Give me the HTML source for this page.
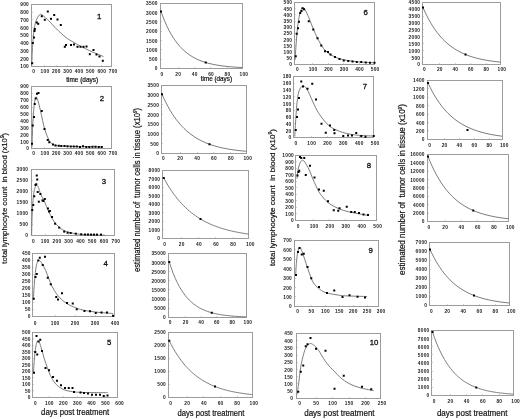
<!DOCTYPE html>
<html><head><meta charset="utf-8"><style>
html,body{margin:0;padding:0;background:#fff;}
body{width:520px;height:419px;overflow:hidden;}
svg{display:block;filter:grayscale(1);}
svg text{font-family:"Liberation Sans", sans-serif;}
.p text{font-size:4.8px;fill:#222;font-weight:bold;letter-spacing:0.25px;}
</style></head><body>
<svg width="520" height="419" viewBox="0 0 520 419">
<rect width="520" height="419" fill="#fff"/>
<g class="p"><rect x="31.5" y="4.5" width="80" height="62" fill="none" stroke="#9c9c9c" stroke-width="1.0"/><text x="29.05" y="0" text-anchor="end" transform="translate(0 6.42) scale(1 1.0) translate(0 0)">900</text><path d="M31.5,12.5 h1.5" stroke="#9c9c9c" stroke-width="0.8" opacity="0.6"/><text x="29.05" y="0" text-anchor="end" transform="translate(0 14.17) scale(1 1.0) translate(0 0)">800</text><path d="M31.5,19.5 h1.5" stroke="#9c9c9c" stroke-width="0.8" opacity="0.6"/><text x="29.05" y="0" text-anchor="end" transform="translate(0 21.92) scale(1 1.0) translate(0 0)">700</text><path d="M31.5,27.5 h1.5" stroke="#9c9c9c" stroke-width="0.8" opacity="0.6"/><text x="29.05" y="0" text-anchor="end" transform="translate(0 29.67) scale(1 1.0) translate(0 0)">600</text><path d="M31.5,35.5 h1.5" stroke="#9c9c9c" stroke-width="0.8" opacity="0.6"/><text x="29.05" y="0" text-anchor="end" transform="translate(0 37.42) scale(1 1.0) translate(0 0)">500</text><path d="M31.5,43.5 h1.5" stroke="#9c9c9c" stroke-width="0.8" opacity="0.6"/><text x="29.05" y="0" text-anchor="end" transform="translate(0 45.17) scale(1 1.0) translate(0 0)">400</text><path d="M31.5,50.5 h1.5" stroke="#9c9c9c" stroke-width="0.8" opacity="0.6"/><text x="29.05" y="0" text-anchor="end" transform="translate(0 52.92) scale(1 1.0) translate(0 0)">300</text><path d="M31.5,58.5 h1.5" stroke="#9c9c9c" stroke-width="0.8" opacity="0.6"/><text x="29.05" y="0" text-anchor="end" transform="translate(0 60.67) scale(1 1.0) translate(0 0)">200</text><text x="29.05" y="0" text-anchor="end" transform="translate(0 68.42) scale(1 1.0) translate(0 0)">100</text><text x="33.62" y="0" text-anchor="middle" transform="translate(0 73.02) scale(1 1.0)">0</text><path d="M44.5,66.5 v-1.5" stroke="#9c9c9c" stroke-width="0.8" opacity="0.6"/><text x="44.98" y="0" text-anchor="middle" transform="translate(0 73.02) scale(1 1.0)">100</text><path d="M56.5,66.5 v-1.5" stroke="#9c9c9c" stroke-width="0.8" opacity="0.6"/><text x="56.33" y="0" text-anchor="middle" transform="translate(0 73.02) scale(1 1.0)">200</text><path d="M67.5,66.5 v-1.5" stroke="#9c9c9c" stroke-width="0.8" opacity="0.6"/><text x="67.69" y="0" text-anchor="middle" transform="translate(0 73.02) scale(1 1.0)">300</text><path d="M78.5,66.5 v-1.5" stroke="#9c9c9c" stroke-width="0.8" opacity="0.6"/><text x="79.05" y="0" text-anchor="middle" transform="translate(0 73.02) scale(1 1.0)">400</text><path d="M90.5,66.5 v-1.5" stroke="#9c9c9c" stroke-width="0.8" opacity="0.6"/><text x="90.41" y="0" text-anchor="middle" transform="translate(0 73.02) scale(1 1.0)">500</text><path d="M101.5,66.5 v-1.5" stroke="#9c9c9c" stroke-width="0.8" opacity="0.6"/><text x="101.76" y="0" text-anchor="middle" transform="translate(0 73.02) scale(1 1.0)">600</text><text x="113.12" y="0" text-anchor="middle" transform="translate(0 73.02) scale(1 1.0)">700</text><path d="M31.6,66 C31.65,65 31.78,62.5 31.9,60 C32.02,57.5 32.05,55.03 32.3,51 C32.55,46.97 33.02,39.88 33.4,35.8 C33.78,31.72 34.13,29.07 34.6,26.5 C35.07,23.93 35.55,22.15 36.2,20.4 C36.85,18.65 37.78,17.03 38.5,16 C39.22,14.97 39.88,14.37 40.5,14.2 C41.12,14.03 41.65,14.65 42.2,15 C42.75,15.35 42.97,15.6 43.8,16.3 C44.63,17 46.08,18.17 47.2,19.2 C48.32,20.23 49.25,21.18 50.5,22.5 C51.75,23.82 53.3,25.63 54.7,27.1 C56.1,28.57 57.5,29.97 58.9,31.3 C60.3,32.63 61.72,33.92 63.1,35.1 C64.48,36.28 65.82,37.42 67.2,38.4 C68.58,39.38 69.65,39.97 71.4,41 C73.15,42.03 75.37,43.33 77.7,44.6 C80.03,45.87 82.83,47.32 85.4,48.6 C87.97,49.88 90.08,50.98 93.1,52.3 C96.12,53.62 101.77,55.8 103.5,56.5" fill="none" stroke="#767676" stroke-width="0.95"/><rect x="31.2" y="62.2" width="2.0" height="2.0" fill="#000"/><rect x="31.8" y="42" width="2.0" height="2.0" fill="#000"/><rect x="33" y="36.5" width="2.0" height="2.0" fill="#000"/><rect x="33.5" y="30" width="2.0" height="2.0" fill="#000"/><rect x="33.8" y="28" width="2.0" height="2.0" fill="#000"/><rect x="35.8" y="21.5" width="2.0" height="2.0" fill="#000"/><rect x="37.2" y="22.8" width="2.0" height="2.0" fill="#000"/><rect x="40.8" y="15.2" width="2.0" height="2.0" fill="#000"/><rect x="43.8" y="18.8" width="2.0" height="2.0" fill="#000"/><rect x="46.8" y="10.5" width="2.0" height="2.0" fill="#000"/><rect x="50" y="17.8" width="2.0" height="2.0" fill="#000"/><rect x="53.2" y="14" width="2.0" height="2.0" fill="#000"/><rect x="56.5" y="18.5" width="2.0" height="2.0" fill="#000"/><rect x="59.8" y="24" width="2.0" height="2.0" fill="#000"/><rect x="63.8" y="45.8" width="2.0" height="2.0" fill="#000"/><rect x="65" y="44" width="2.0" height="2.0" fill="#000"/><rect x="70" y="44" width="2.0" height="2.0" fill="#000"/><rect x="73" y="43.5" width="2.0" height="2.0" fill="#000"/><rect x="76.5" y="45.8" width="2.0" height="2.0" fill="#000"/><rect x="79.5" y="45.8" width="2.0" height="2.0" fill="#000"/><rect x="82.5" y="45.8" width="2.0" height="2.0" fill="#000"/><rect x="85.5" y="45.5" width="2.0" height="2.0" fill="#000"/><rect x="88.8" y="53.2" width="2.0" height="2.0" fill="#000"/><rect x="92.5" y="49" width="2.0" height="2.0" fill="#000"/><rect x="95.5" y="53.5" width="2.0" height="2.0" fill="#000"/><rect x="98.5" y="55.5" width="2.0" height="2.0" fill="#000"/><rect x="101.8" y="59.8" width="2.0" height="2.0" fill="#000"/><text x="99.1" y="19.01" text-anchor="middle" style="font-size:7.8px;fill:#111;font-weight:normal;letter-spacing:0;stroke:#111;stroke-width:0.3px">1</text></g>
<g class="p"><rect x="31.5" y="86.5" width="80" height="62" fill="none" stroke="#9c9c9c" stroke-width="1.0"/><text x="29.05" y="0" text-anchor="end" transform="translate(0 88.42) scale(1 1.0) translate(0 0)">900</text><path d="M31.5,93.5 h1.5" stroke="#9c9c9c" stroke-width="0.8" opacity="0.6"/><text x="29.05" y="0" text-anchor="end" transform="translate(0 95.3) scale(1 1.0) translate(0 0)">800</text><path d="M31.5,100.5 h1.5" stroke="#9c9c9c" stroke-width="0.8" opacity="0.6"/><text x="29.05" y="0" text-anchor="end" transform="translate(0 102.19) scale(1 1.0) translate(0 0)">700</text><path d="M31.5,107.5 h1.5" stroke="#9c9c9c" stroke-width="0.8" opacity="0.6"/><text x="29.05" y="0" text-anchor="end" transform="translate(0 109.08) scale(1 1.0) translate(0 0)">600</text><path d="M31.5,113.5 h1.5" stroke="#9c9c9c" stroke-width="0.8" opacity="0.6"/><text x="29.05" y="0" text-anchor="end" transform="translate(0 115.97) scale(1 1.0) translate(0 0)">500</text><path d="M31.5,120.5 h1.5" stroke="#9c9c9c" stroke-width="0.8" opacity="0.6"/><text x="29.05" y="0" text-anchor="end" transform="translate(0 122.86) scale(1 1.0) translate(0 0)">400</text><path d="M31.5,127.5 h1.5" stroke="#9c9c9c" stroke-width="0.8" opacity="0.6"/><text x="29.05" y="0" text-anchor="end" transform="translate(0 129.75) scale(1 1.0) translate(0 0)">300</text><path d="M31.5,134.5 h1.5" stroke="#9c9c9c" stroke-width="0.8" opacity="0.6"/><text x="29.05" y="0" text-anchor="end" transform="translate(0 136.64) scale(1 1.0) translate(0 0)">200</text><path d="M31.5,141.5 h1.5" stroke="#9c9c9c" stroke-width="0.8" opacity="0.6"/><text x="29.05" y="0" text-anchor="end" transform="translate(0 143.53) scale(1 1.0) translate(0 0)">100</text><text x="29.05" y="0" text-anchor="end" transform="translate(0 150.42) scale(1 1.0) translate(0 0)">0</text><text x="33.62" y="0" text-anchor="middle" transform="translate(0 155.27) scale(1 1.0)">0</text><path d="M44.5,148.5 v-1.5" stroke="#9c9c9c" stroke-width="0.8" opacity="0.6"/><text x="44.98" y="0" text-anchor="middle" transform="translate(0 155.27) scale(1 1.0)">100</text><path d="M56.5,148.5 v-1.5" stroke="#9c9c9c" stroke-width="0.8" opacity="0.6"/><text x="56.33" y="0" text-anchor="middle" transform="translate(0 155.27) scale(1 1.0)">200</text><path d="M67.5,148.5 v-1.5" stroke="#9c9c9c" stroke-width="0.8" opacity="0.6"/><text x="67.69" y="0" text-anchor="middle" transform="translate(0 155.27) scale(1 1.0)">300</text><path d="M78.5,148.5 v-1.5" stroke="#9c9c9c" stroke-width="0.8" opacity="0.6"/><text x="79.05" y="0" text-anchor="middle" transform="translate(0 155.27) scale(1 1.0)">400</text><path d="M90.5,148.5 v-1.5" stroke="#9c9c9c" stroke-width="0.8" opacity="0.6"/><text x="90.41" y="0" text-anchor="middle" transform="translate(0 155.27) scale(1 1.0)">500</text><path d="M101.5,148.5 v-1.5" stroke="#9c9c9c" stroke-width="0.8" opacity="0.6"/><text x="101.76" y="0" text-anchor="middle" transform="translate(0 155.27) scale(1 1.0)">600</text><text x="113.12" y="0" text-anchor="middle" transform="translate(0 155.27) scale(1 1.0)">700</text><path d="M32,147 C32.07,145 32.28,138.67 32.4,135 C32.52,131.33 32.57,128 32.7,125 C32.83,122 33.03,119.47 33.2,117 C33.37,114.53 33.45,112.82 33.7,110.2 C33.95,107.58 34.33,103.52 34.7,101.3 C35.07,99.08 35.52,97.42 35.9,96.9 C36.28,96.38 36.63,97.47 37,98.2 C37.37,98.93 37.73,100.1 38.1,101.3 C38.47,102.5 38.82,103.92 39.2,105.4 C39.58,106.88 40.02,108.55 40.4,110.2 C40.78,111.85 41.13,113.57 41.5,115.3 C41.87,117.03 42.23,118.93 42.6,120.6 C42.97,122.27 43.33,123.82 43.7,125.3 C44.07,126.78 44.37,128.07 44.8,129.5 C45.23,130.93 45.8,132.55 46.3,133.9 C46.8,135.25 47.32,136.5 47.8,137.6 C48.28,138.7 48.72,139.63 49.2,140.5 C49.68,141.37 50.15,142.18 50.7,142.8 C51.25,143.42 51.88,143.83 52.5,144.2 C53.12,144.57 53.22,144.73 54.4,145 C55.58,145.27 56.17,145.55 59.6,145.8 C63.03,146.05 67.85,146.33 75,146.5 C82.15,146.67 97.92,146.75 102.5,146.8" fill="none" stroke="#767676" stroke-width="0.95"/><rect x="31" y="142.75" width="2.0" height="2.0" fill="#000"/><rect x="31.75" y="124.5" width="2.0" height="2.0" fill="#000"/><rect x="33" y="116" width="2.0" height="2.0" fill="#000"/><rect x="33.75" y="103" width="2.0" height="2.0" fill="#000"/><rect x="34.75" y="97.5" width="2.0" height="2.0" fill="#000"/><rect x="36" y="92.75" width="2.0" height="2.0" fill="#000"/><rect x="37.5" y="92" width="2.0" height="2.0" fill="#000"/><rect x="40.75" y="110" width="2.0" height="2.0" fill="#000"/><rect x="43.5" y="128" width="2.0" height="2.0" fill="#000"/><rect x="46.75" y="139" width="2.0" height="2.0" fill="#000"/><rect x="48.25" y="141.25" width="2.0" height="2.0" fill="#000"/><rect x="52" y="143.5" width="2.0" height="2.0" fill="#000"/><rect x="54.5" y="144.5" width="2.0" height="2.0" fill="#000"/><rect x="57.75" y="144.75" width="2.0" height="2.0" fill="#000"/><rect x="60.25" y="145" width="2.0" height="2.0" fill="#000"/><rect x="63.5" y="145" width="2.0" height="2.0" fill="#000"/><rect x="66.5" y="145.25" width="2.0" height="2.0" fill="#000"/><rect x="69.75" y="145.5" width="2.0" height="2.0" fill="#000"/><rect x="72.75" y="145.5" width="2.0" height="2.0" fill="#000"/><rect x="75.75" y="145.5" width="2.0" height="2.0" fill="#000"/><rect x="79" y="146" width="2.0" height="2.0" fill="#000"/><rect x="82" y="145.25" width="2.0" height="2.0" fill="#000"/><rect x="85.25" y="146" width="2.0" height="2.0" fill="#000"/><rect x="88.25" y="146" width="2.0" height="2.0" fill="#000"/><rect x="91.5" y="145.75" width="2.0" height="2.0" fill="#000"/><rect x="94.5" y="145.75" width="2.0" height="2.0" fill="#000"/><rect x="97.75" y="146" width="2.0" height="2.0" fill="#000"/><rect x="100.75" y="146" width="2.0" height="2.0" fill="#000"/><text x="102" y="100.71" text-anchor="middle" style="font-size:7.8px;fill:#111;font-weight:normal;letter-spacing:0;stroke:#111;stroke-width:0.3px">2</text></g>
<g class="p"><rect x="31.5" y="169.5" width="83" height="66" fill="none" stroke="#9c9c9c" stroke-width="1.0"/><text x="28.25" y="0" text-anchor="end" transform="translate(0 171.42) scale(1 1.0) translate(0 0)">3000</text><path d="M31.5,180.5 h1.5" stroke="#9c9c9c" stroke-width="0.8" opacity="0.6"/><text x="28.25" y="0" text-anchor="end" transform="translate(0 182.42) scale(1 1.0) translate(0 0)">2500</text><path d="M31.5,191.5 h1.5" stroke="#9c9c9c" stroke-width="0.8" opacity="0.6"/><text x="28.25" y="0" text-anchor="end" transform="translate(0 193.42) scale(1 1.0) translate(0 0)">2000</text><path d="M31.5,202.5 h1.5" stroke="#9c9c9c" stroke-width="0.8" opacity="0.6"/><text x="28.25" y="0" text-anchor="end" transform="translate(0 204.42) scale(1 1.0) translate(0 0)">1500</text><path d="M31.5,213.5 h1.5" stroke="#9c9c9c" stroke-width="0.8" opacity="0.6"/><text x="28.25" y="0" text-anchor="end" transform="translate(0 215.42) scale(1 1.0) translate(0 0)">1000</text><path d="M31.5,224.5 h1.5" stroke="#9c9c9c" stroke-width="0.8" opacity="0.6"/><text x="28.25" y="0" text-anchor="end" transform="translate(0 226.42) scale(1 1.0) translate(0 0)">500</text><text x="28.25" y="0" text-anchor="end" transform="translate(0 237.42) scale(1 1.0) translate(0 0)">0</text><text x="33.37" y="0" text-anchor="middle" transform="translate(0 243.27) scale(1 1.0)">0</text><path d="M45.5,235.5 v-1.5" stroke="#9c9c9c" stroke-width="0.8" opacity="0.6"/><text x="45.16" y="0" text-anchor="middle" transform="translate(0 243.27) scale(1 1.0)">100</text><path d="M56.5,235.5 v-1.5" stroke="#9c9c9c" stroke-width="0.8" opacity="0.6"/><text x="56.94" y="0" text-anchor="middle" transform="translate(0 243.27) scale(1 1.0)">200</text><path d="M68.5,235.5 v-1.5" stroke="#9c9c9c" stroke-width="0.8" opacity="0.6"/><text x="68.73" y="0" text-anchor="middle" transform="translate(0 243.27) scale(1 1.0)">300</text><path d="M80.5,235.5 v-1.5" stroke="#9c9c9c" stroke-width="0.8" opacity="0.6"/><text x="80.51" y="0" text-anchor="middle" transform="translate(0 243.27) scale(1 1.0)">400</text><path d="M92.5,235.5 v-1.5" stroke="#9c9c9c" stroke-width="0.8" opacity="0.6"/><text x="92.3" y="0" text-anchor="middle" transform="translate(0 243.27) scale(1 1.0)">500</text><path d="M103.5,235.5 v-1.5" stroke="#9c9c9c" stroke-width="0.8" opacity="0.6"/><text x="104.08" y="0" text-anchor="middle" transform="translate(0 243.27) scale(1 1.0)">600</text><text x="115.87" y="0" text-anchor="middle" transform="translate(0 243.27) scale(1 1.0)">700</text><path d="M31.6,235 C31.7,231.5 31.92,220.33 32.2,214 C32.48,207.67 32.92,201.08 33.3,197 C33.68,192.92 34.08,191.33 34.5,189.5 C34.92,187.67 35.38,186.67 35.8,186 C36.22,185.33 36.55,185.25 37,185.5 C37.45,185.75 37.93,186.15 38.5,187.5 C39.07,188.85 39.73,191.88 40.4,193.6 C41.07,195.32 41.82,196.45 42.5,197.8 C43.18,199.15 43.83,200.27 44.5,201.7 C45.17,203.13 45.82,204.8 46.5,206.4 C47.18,208 47.9,209.75 48.6,211.3 C49.3,212.85 50.02,214.35 50.7,215.7 C51.38,217.05 52.03,218.28 52.7,219.4 C53.37,220.52 54.03,221.5 54.7,222.4 C55.37,223.3 55.9,223.95 56.7,224.8 C57.5,225.65 58.58,226.7 59.5,227.5 C60.42,228.3 61.2,229 62.2,229.6 C63.2,230.2 64.37,230.65 65.5,231.1 C66.63,231.55 67.28,231.87 69,232.3 C70.72,232.73 73.32,233.32 75.8,233.7 C78.28,234.08 80.7,234.37 83.9,234.6 C87.1,234.83 91.43,234.98 95,235.1 C98.57,235.22 103.58,235.27 105.3,235.3" fill="none" stroke="#767676" stroke-width="0.95"/><rect x="31.25" y="209" width="2.0" height="2.0" fill="#000"/><rect x="32.25" y="204" width="2.0" height="2.0" fill="#000"/><rect x="33.25" y="195.25" width="2.0" height="2.0" fill="#000"/><rect x="34.5" y="184" width="2.0" height="2.0" fill="#000"/><rect x="35.25" y="183.25" width="2.0" height="2.0" fill="#000"/><rect x="35.75" y="174.5" width="2.0" height="2.0" fill="#000"/><rect x="36.25" y="178.5" width="2.0" height="2.0" fill="#000"/><rect x="36.7" y="191" width="2.0" height="2.0" fill="#000"/><rect x="37.8" y="200.7" width="2.0" height="2.0" fill="#000"/><rect x="39.4" y="193" width="2.0" height="2.0" fill="#000"/><rect x="41.5" y="199.4" width="2.0" height="2.0" fill="#000"/><rect x="42.4" y="200" width="2.0" height="2.0" fill="#000"/><rect x="43.8" y="198" width="2.0" height="2.0" fill="#000"/><rect x="46.9" y="207.5" width="2.0" height="2.0" fill="#000"/><rect x="48" y="210.5" width="2.0" height="2.0" fill="#000"/><rect x="48.9" y="210" width="2.0" height="2.0" fill="#000"/><rect x="51" y="216" width="2.0" height="2.0" fill="#000"/><rect x="54.1" y="222.7" width="2.0" height="2.0" fill="#000"/><rect x="58.2" y="226.6" width="2.0" height="2.0" fill="#000"/><rect x="63.2" y="230.6" width="2.0" height="2.0" fill="#000"/><rect x="66.6" y="231.7" width="2.0" height="2.0" fill="#000"/><rect x="69.6" y="232" width="2.0" height="2.0" fill="#000"/><rect x="74.8" y="232.7" width="2.0" height="2.0" fill="#000"/><rect x="80.2" y="233.3" width="2.0" height="2.0" fill="#000"/><rect x="84" y="233.5" width="2.0" height="2.0" fill="#000"/><rect x="87" y="233.5" width="2.0" height="2.0" fill="#000"/><rect x="90" y="233.6" width="2.0" height="2.0" fill="#000"/><rect x="93" y="233.6" width="2.0" height="2.0" fill="#000"/><rect x="96" y="233.6" width="2.0" height="2.0" fill="#000"/><rect x="100" y="233.6" width="2.0" height="2.0" fill="#000"/><text x="103.8" y="183.61" text-anchor="middle" style="font-size:7.8px;fill:#111;font-weight:normal;letter-spacing:0;stroke:#111;stroke-width:0.3px">3</text></g>
<g class="p"><rect x="32.5" y="253.5" width="82" height="63" fill="none" stroke="#9c9c9c" stroke-width="1.0"/><text x="30.75" y="0" text-anchor="end" transform="translate(0 255.42) scale(1 1.0) translate(0 0)">450</text><path d="M32.5,260.5 h1.5" stroke="#9c9c9c" stroke-width="0.8" opacity="0.6"/><text x="30.75" y="0" text-anchor="end" transform="translate(0 262.42) scale(1 1.0) translate(0 0)">400</text><path d="M32.5,267.5 h1.5" stroke="#9c9c9c" stroke-width="0.8" opacity="0.6"/><text x="30.75" y="0" text-anchor="end" transform="translate(0 269.42) scale(1 1.0) translate(0 0)">350</text><path d="M32.5,274.5 h1.5" stroke="#9c9c9c" stroke-width="0.8" opacity="0.6"/><text x="30.75" y="0" text-anchor="end" transform="translate(0 276.42) scale(1 1.0) translate(0 0)">300</text><path d="M32.5,281.5 h1.5" stroke="#9c9c9c" stroke-width="0.8" opacity="0.6"/><text x="30.75" y="0" text-anchor="end" transform="translate(0 283.42) scale(1 1.0) translate(0 0)">250</text><path d="M32.5,288.5 h1.5" stroke="#9c9c9c" stroke-width="0.8" opacity="0.6"/><text x="30.75" y="0" text-anchor="end" transform="translate(0 290.42) scale(1 1.0) translate(0 0)">200</text><path d="M32.5,295.5 h1.5" stroke="#9c9c9c" stroke-width="0.8" opacity="0.6"/><text x="30.75" y="0" text-anchor="end" transform="translate(0 297.42) scale(1 1.0) translate(0 0)">150</text><path d="M32.5,302.5 h1.5" stroke="#9c9c9c" stroke-width="0.8" opacity="0.6"/><text x="30.75" y="0" text-anchor="end" transform="translate(0 304.42) scale(1 1.0) translate(0 0)">100</text><path d="M32.5,309.5 h1.5" stroke="#9c9c9c" stroke-width="0.8" opacity="0.6"/><text x="30.75" y="0" text-anchor="end" transform="translate(0 311.42) scale(1 1.0) translate(0 0)">50</text><text x="30.75" y="0" text-anchor="end" transform="translate(0 318.42) scale(1 1.0) translate(0 0)">0</text><text x="35.12" y="0" text-anchor="middle" transform="translate(0 324.52) scale(1 1.0)">0</text><path d="M55.5,316.5 v-1.5" stroke="#9c9c9c" stroke-width="0.8" opacity="0.6"/><text x="55.12" y="0" text-anchor="middle" transform="translate(0 324.52) scale(1 1.0)">100</text><path d="M75.5,316.5 v-1.5" stroke="#9c9c9c" stroke-width="0.8" opacity="0.6"/><text x="75.12" y="0" text-anchor="middle" transform="translate(0 324.52) scale(1 1.0)">200</text><path d="M95.5,316.5 v-1.5" stroke="#9c9c9c" stroke-width="0.8" opacity="0.6"/><text x="95.12" y="0" text-anchor="middle" transform="translate(0 324.52) scale(1 1.0)">300</text><text x="115.12" y="0" text-anchor="middle" transform="translate(0 324.52) scale(1 1.0)">400</text><path d="M33.3,300 C33.38,298.67 33.63,294.57 33.8,292 C33.97,289.43 34.03,287.88 34.3,284.6 C34.57,281.32 35.02,275.62 35.4,272.3 C35.78,268.98 36.2,266.53 36.6,264.7 C37,262.87 37.42,262.07 37.8,261.3 C38.18,260.53 38.45,260.1 38.9,260.1 C39.35,260.1 39.87,260.53 40.5,261.3 C41.13,262.07 42.07,263.67 42.7,264.7 C43.33,265.73 43.78,266.48 44.3,267.5 C44.82,268.52 45.3,269.62 45.8,270.8 C46.3,271.98 46.8,273.32 47.3,274.6 C47.8,275.88 48.3,277.2 48.8,278.5 C49.3,279.8 49.78,281.13 50.3,282.4 C50.82,283.67 51.25,284.78 51.9,286.1 C52.55,287.42 53.43,289.02 54.2,290.3 C54.97,291.58 55.73,292.73 56.5,293.8 C57.27,294.87 58.03,295.82 58.8,296.7 C59.57,297.58 60.23,298.28 61.1,299.1 C61.97,299.92 62.98,300.83 64,301.6 C65.02,302.37 66.2,303.07 67.2,303.7 C68.2,304.33 68.98,304.88 70,305.4 C71.02,305.92 72.05,306.3 73.3,306.8 C74.55,307.3 76.05,307.9 77.5,308.4 C78.95,308.9 79.92,309.32 82,309.8 C84.08,310.28 87,310.85 90,311.3 C93,311.75 96.17,312.13 100,312.5 C103.83,312.87 110.83,313.33 113,313.5" fill="none" stroke="#767676" stroke-width="0.95"/><rect x="32.75" y="297.75" width="2.0" height="2.0" fill="#000"/><rect x="34.5" y="276" width="2.0" height="2.0" fill="#000"/><rect x="35.75" y="273" width="2.0" height="2.0" fill="#000"/><rect x="37.25" y="259.5" width="2.0" height="2.0" fill="#000"/><rect x="38.75" y="256.75" width="2.0" height="2.0" fill="#000"/><rect x="41.75" y="264" width="2.0" height="2.0" fill="#000"/><rect x="44" y="255.75" width="2.0" height="2.0" fill="#000"/><rect x="46.75" y="276.75" width="2.0" height="2.0" fill="#000"/><rect x="49.75" y="283.25" width="2.0" height="2.0" fill="#000"/><rect x="55.25" y="296" width="2.0" height="2.0" fill="#000"/><rect x="57" y="298.5" width="2.0" height="2.0" fill="#000"/><rect x="61" y="292.25" width="2.0" height="2.0" fill="#000"/><rect x="66" y="302" width="2.0" height="2.0" fill="#000"/><rect x="71.75" y="302.5" width="2.0" height="2.0" fill="#000"/><rect x="75.75" y="308.25" width="2.0" height="2.0" fill="#000"/><rect x="83.5" y="310" width="2.0" height="2.0" fill="#000"/><rect x="89" y="310.25" width="2.0" height="2.0" fill="#000"/><rect x="94.75" y="312" width="2.0" height="2.0" fill="#000"/><rect x="100.5" y="311.5" width="2.0" height="2.0" fill="#000"/><rect x="106" y="311.5" width="2.0" height="2.0" fill="#000"/><rect x="112" y="314.75" width="2.0" height="2.0" fill="#000"/><text x="105.7" y="266.01" text-anchor="middle" style="font-size:7.8px;fill:#111;font-weight:normal;letter-spacing:0;stroke:#111;stroke-width:0.3px">4</text></g>
<g class="p"><rect x="32.5" y="332.5" width="85" height="65" fill="none" stroke="#9c9c9c" stroke-width="1.0"/><text x="30.75" y="0" text-anchor="end" transform="translate(0 334.42) scale(1 1.0) translate(0 0)">500</text><path d="M32.5,338.5 h1.5" stroke="#9c9c9c" stroke-width="0.8" opacity="0.6"/><text x="30.75" y="0" text-anchor="end" transform="translate(0 340.92) scale(1 1.0) translate(0 0)">450</text><path d="M32.5,345.5 h1.5" stroke="#9c9c9c" stroke-width="0.8" opacity="0.6"/><text x="30.75" y="0" text-anchor="end" transform="translate(0 347.42) scale(1 1.0) translate(0 0)">400</text><path d="M32.5,351.5 h1.5" stroke="#9c9c9c" stroke-width="0.8" opacity="0.6"/><text x="30.75" y="0" text-anchor="end" transform="translate(0 353.92) scale(1 1.0) translate(0 0)">350</text><path d="M32.5,358.5 h1.5" stroke="#9c9c9c" stroke-width="0.8" opacity="0.6"/><text x="30.75" y="0" text-anchor="end" transform="translate(0 360.42) scale(1 1.0) translate(0 0)">300</text><path d="M32.5,364.5 h1.5" stroke="#9c9c9c" stroke-width="0.8" opacity="0.6"/><text x="30.75" y="0" text-anchor="end" transform="translate(0 366.92) scale(1 1.0) translate(0 0)">250</text><path d="M32.5,371.5 h1.5" stroke="#9c9c9c" stroke-width="0.8" opacity="0.6"/><text x="30.75" y="0" text-anchor="end" transform="translate(0 373.42) scale(1 1.0) translate(0 0)">200</text><path d="M32.5,377.5 h1.5" stroke="#9c9c9c" stroke-width="0.8" opacity="0.6"/><text x="30.75" y="0" text-anchor="end" transform="translate(0 379.92) scale(1 1.0) translate(0 0)">150</text><path d="M32.5,384.5 h1.5" stroke="#9c9c9c" stroke-width="0.8" opacity="0.6"/><text x="30.75" y="0" text-anchor="end" transform="translate(0 386.42) scale(1 1.0) translate(0 0)">100</text><path d="M32.5,390.5 h1.5" stroke="#9c9c9c" stroke-width="0.8" opacity="0.6"/><text x="30.75" y="0" text-anchor="end" transform="translate(0 392.92) scale(1 1.0) translate(0 0)">50</text><text x="30.75" y="0" text-anchor="end" transform="translate(0 399.42) scale(1 1.0) translate(0 0)">0</text><text x="35.37" y="0" text-anchor="middle" transform="translate(0 405.02) scale(1 1.0)">0</text><path d="M49.5,397.5 v-1.5" stroke="#9c9c9c" stroke-width="0.8" opacity="0.6"/><text x="49.41" y="0" text-anchor="middle" transform="translate(0 405.02) scale(1 1.0)">100</text><path d="M63.5,397.5 v-1.5" stroke="#9c9c9c" stroke-width="0.8" opacity="0.6"/><text x="63.45" y="0" text-anchor="middle" transform="translate(0 405.02) scale(1 1.0)">200</text><path d="M77.5,397.5 v-1.5" stroke="#9c9c9c" stroke-width="0.8" opacity="0.6"/><text x="77.5" y="0" text-anchor="middle" transform="translate(0 405.02) scale(1 1.0)">300</text><path d="M91.5,397.5 v-1.5" stroke="#9c9c9c" stroke-width="0.8" opacity="0.6"/><text x="91.54" y="0" text-anchor="middle" transform="translate(0 405.02) scale(1 1.0)">400</text><path d="M105.5,397.5 v-1.5" stroke="#9c9c9c" stroke-width="0.8" opacity="0.6"/><text x="105.58" y="0" text-anchor="middle" transform="translate(0 405.02) scale(1 1.0)">500</text><text x="119.62" y="0" text-anchor="middle" transform="translate(0 405.02) scale(1 1.0)">600</text><path d="M33.5,372.2 C33.63,370.17 33.98,363.82 34.3,360 C34.62,356.18 35.02,352.1 35.4,349.3 C35.78,346.5 36.2,344.6 36.6,343.2 C37,341.8 37.4,341.13 37.8,340.9 C38.2,340.67 38.63,341.28 39,341.8 C39.37,342.32 39.63,343 40,344 C40.37,345 40.75,346.3 41.2,347.8 C41.65,349.3 42.2,351.22 42.7,353 C43.2,354.78 43.68,356.78 44.2,358.5 C44.72,360.22 45.28,361.78 45.8,363.3 C46.32,364.82 46.8,366.22 47.3,367.6 C47.8,368.98 48.3,370.32 48.8,371.6 C49.3,372.88 49.68,373.98 50.3,375.3 C50.92,376.62 51.73,378.22 52.5,379.5 C53.27,380.78 53.9,381.83 54.9,383 C55.9,384.17 57.22,385.5 58.5,386.5 C59.78,387.5 61.35,388.35 62.6,389 C63.85,389.65 64.73,390.02 66,390.4 C67.27,390.78 68.7,391.03 70.2,391.3 C71.7,391.57 73.22,391.82 75,392 C76.78,392.18 77.57,392.3 80.9,392.4 C84.23,392.5 90.53,392.57 95,392.6 C99.47,392.63 105.58,392.6 107.7,392.6" fill="none" stroke="#767676" stroke-width="0.95"/><rect x="33" y="371.75" width="2.0" height="2.0" fill="#000"/><rect x="34.25" y="351" width="2.0" height="2.0" fill="#000"/><rect x="35.5" y="335" width="2.0" height="2.0" fill="#000"/><rect x="36.25" y="353.5" width="2.0" height="2.0" fill="#000"/><rect x="37.5" y="340.5" width="2.0" height="2.0" fill="#000"/><rect x="39.25" y="338.75" width="2.0" height="2.0" fill="#000"/><rect x="41" y="350" width="2.0" height="2.0" fill="#000"/><rect x="44.5" y="367" width="2.0" height="2.0" fill="#000"/><rect x="48" y="369.25" width="2.0" height="2.0" fill="#000"/><rect x="52" y="376" width="2.0" height="2.0" fill="#000"/><rect x="56" y="379.75" width="2.0" height="2.0" fill="#000"/><rect x="60" y="384.25" width="2.0" height="2.0" fill="#000"/><rect x="64" y="387" width="2.0" height="2.0" fill="#000"/><rect x="67.75" y="387" width="2.0" height="2.0" fill="#000"/><rect x="71.5" y="387" width="2.0" height="2.0" fill="#000"/><rect x="73" y="391" width="2.0" height="2.0" fill="#000"/><rect x="79.5" y="391.5" width="2.0" height="2.0" fill="#000"/><rect x="83" y="392" width="2.0" height="2.0" fill="#000"/><rect x="87" y="392.5" width="2.0" height="2.0" fill="#000"/><rect x="91" y="393.75" width="2.0" height="2.0" fill="#000"/><rect x="95" y="393.75" width="2.0" height="2.0" fill="#000"/><rect x="99" y="393.75" width="2.0" height="2.0" fill="#000"/><rect x="102.75" y="395" width="2.0" height="2.0" fill="#000"/><rect x="106.5" y="394.5" width="2.0" height="2.0" fill="#000"/><text x="109.2" y="344.61" text-anchor="middle" style="font-size:7.8px;fill:#111;font-weight:normal;letter-spacing:0;stroke:#111;stroke-width:0.3px">5</text></g>
<g class="p"><rect x="160.5" y="3.5" width="82" height="65" fill="none" stroke="#9c9c9c" stroke-width="1.0"/><text x="157.75" y="0" text-anchor="end" transform="translate(0 5.42) scale(1 1.0) translate(0 0)">3500</text><path d="M160.5,12.5 h1.5" stroke="#9c9c9c" stroke-width="0.8" opacity="0.6"/><text x="157.75" y="0" text-anchor="end" transform="translate(0 14.7) scale(1 1.0) translate(0 0)">3000</text><path d="M160.5,21.5 h1.5" stroke="#9c9c9c" stroke-width="0.8" opacity="0.6"/><text x="157.75" y="0" text-anchor="end" transform="translate(0 23.99) scale(1 1.0) translate(0 0)">2500</text><path d="M160.5,31.5 h1.5" stroke="#9c9c9c" stroke-width="0.8" opacity="0.6"/><text x="157.75" y="0" text-anchor="end" transform="translate(0 33.27) scale(1 1.0) translate(0 0)">2000</text><path d="M160.5,40.5 h1.5" stroke="#9c9c9c" stroke-width="0.8" opacity="0.6"/><text x="157.75" y="0" text-anchor="end" transform="translate(0 42.56) scale(1 1.0) translate(0 0)">1500</text><path d="M160.5,49.5 h1.5" stroke="#9c9c9c" stroke-width="0.8" opacity="0.6"/><text x="157.75" y="0" text-anchor="end" transform="translate(0 51.84) scale(1 1.0) translate(0 0)">1000</text><path d="M160.5,59.5 h1.5" stroke="#9c9c9c" stroke-width="0.8" opacity="0.6"/><text x="157.75" y="0" text-anchor="end" transform="translate(0 61.13) scale(1 1.0) translate(0 0)">500</text><text x="157.75" y="0" text-anchor="end" transform="translate(0 70.42) scale(1 1.0) translate(0 0)">0</text><text x="161.87" y="0" text-anchor="middle" transform="translate(0 75.77) scale(1 1.0)">0</text><path d="M178.5,68.5 v-1.5" stroke="#9c9c9c" stroke-width="0.8" opacity="0.6"/><text x="178.27" y="0" text-anchor="middle" transform="translate(0 75.77) scale(1 1.0)">20</text><path d="M194.5,68.5 v-1.5" stroke="#9c9c9c" stroke-width="0.8" opacity="0.6"/><text x="194.67" y="0" text-anchor="middle" transform="translate(0 75.77) scale(1 1.0)">40</text><path d="M210.5,68.5 v-1.5" stroke="#9c9c9c" stroke-width="0.8" opacity="0.6"/><text x="211.07" y="0" text-anchor="middle" transform="translate(0 75.77) scale(1 1.0)">60</text><path d="M227.5,68.5 v-1.5" stroke="#9c9c9c" stroke-width="0.8" opacity="0.6"/><text x="227.47" y="0" text-anchor="middle" transform="translate(0 75.77) scale(1 1.0)">80</text><text x="243.87" y="0" text-anchor="middle" transform="translate(0 75.77) scale(1 1.0)">100</text><path d="M161,11.5 L163,16.96 L165,21.89 L167,26.35 L169,30.39 L171,34.03 L173,37.33 L175,40.32 L177,43.01 L179,45.45 L181,47.66 L183,49.65 L185,51.46 L187,53.09 L189,54.56 L191,55.9 L193,57.1 L195,58.2 L197,59.18 L199,60.07 L201,60.88 L203,61.61 L205,62.27 L207,62.87 L209,63.41 L211,63.89 L213,64.33 L215,64.73 L217,65.09 L219,65.42 L221,65.71 L223,65.98 L225,66.22 L227,66.44 L229,66.64 L231,66.82 L233,66.98 L235,67.12 L237,67.25 L239,67.37 L241,67.48 L242.5,67.56" fill="none" stroke="#767676" stroke-width="0.95"/><rect x="160" y="10.5" width="2.0" height="2.0" fill="#000"/><rect x="204.75" y="61.5" width="2.0" height="2.0" fill="#000"/></g>
<g class="p"><rect x="161.5" y="85.5" width="85" height="68" fill="none" stroke="#9c9c9c" stroke-width="1.0"/><text x="159.05" y="0" text-anchor="end" transform="translate(0 87.42) scale(1 1.0) translate(0 0)">3500</text><path d="M161.5,95.5 h1.5" stroke="#9c9c9c" stroke-width="0.8" opacity="0.6"/><text x="159.05" y="0" text-anchor="end" transform="translate(0 97.13) scale(1 1.0) translate(0 0)">3000</text><path d="M161.5,104.5 h1.5" stroke="#9c9c9c" stroke-width="0.8" opacity="0.6"/><text x="159.05" y="0" text-anchor="end" transform="translate(0 106.84) scale(1 1.0) translate(0 0)">2500</text><path d="M161.5,114.5 h1.5" stroke="#9c9c9c" stroke-width="0.8" opacity="0.6"/><text x="159.05" y="0" text-anchor="end" transform="translate(0 116.56) scale(1 1.0) translate(0 0)">2000</text><path d="M161.5,124.5 h1.5" stroke="#9c9c9c" stroke-width="0.8" opacity="0.6"/><text x="159.05" y="0" text-anchor="end" transform="translate(0 126.27) scale(1 1.0) translate(0 0)">1500</text><path d="M161.5,133.5 h1.5" stroke="#9c9c9c" stroke-width="0.8" opacity="0.6"/><text x="159.05" y="0" text-anchor="end" transform="translate(0 135.99) scale(1 1.0) translate(0 0)">1000</text><path d="M161.5,143.5 h1.5" stroke="#9c9c9c" stroke-width="0.8" opacity="0.6"/><text x="159.05" y="0" text-anchor="end" transform="translate(0 145.7) scale(1 1.0) translate(0 0)">500</text><text x="159.05" y="0" text-anchor="end" transform="translate(0 155.42) scale(1 1.0) translate(0 0)">0</text><text x="163.37" y="0" text-anchor="middle" transform="translate(0 160.32) scale(1 1.0)">0</text><path d="M180.5,153.5 v-1.5" stroke="#9c9c9c" stroke-width="0.8" opacity="0.6"/><text x="180.26" y="0" text-anchor="middle" transform="translate(0 160.32) scale(1 1.0)">20</text><path d="M197.5,153.5 v-1.5" stroke="#9c9c9c" stroke-width="0.8" opacity="0.6"/><text x="197.15" y="0" text-anchor="middle" transform="translate(0 160.32) scale(1 1.0)">40</text><path d="M213.5,153.5 v-1.5" stroke="#9c9c9c" stroke-width="0.8" opacity="0.6"/><text x="214.04" y="0" text-anchor="middle" transform="translate(0 160.32) scale(1 1.0)">60</text><path d="M230.5,153.5 v-1.5" stroke="#9c9c9c" stroke-width="0.8" opacity="0.6"/><text x="230.93" y="0" text-anchor="middle" transform="translate(0 160.32) scale(1 1.0)">80</text><text x="247.82" y="0" text-anchor="middle" transform="translate(0 160.32) scale(1 1.0)">100</text><path d="M162,94.25 L164,98.71 L166,102.83 L168,106.64 L170,110.16 L172,113.42 L174,116.44 L176,119.23 L178,121.8 L180,124.19 L182,126.39 L184,128.43 L186,130.32 L188,132.06 L190,133.67 L192,135.16 L194,136.54 L196,137.82 L198,139 L200,140.09 L202,141.1 L204,142.03 L206,142.89 L208,143.69 L210,144.43 L212,145.11 L214,145.74 L216,146.33 L218,146.87 L220,147.36 L222,147.83 L224,148.25 L226,148.65 L228,149.01 L230,149.35 L232,149.66 L234,149.95 L236,150.22 L238,150.46 L240,150.69 L242,150.9 L244,151.1 L246,151.28 L246.5,151.32" fill="none" stroke="#767676" stroke-width="0.95"/><rect x="161" y="93.25" width="2.0" height="2.0" fill="#000"/><rect x="208.5" y="143.25" width="2.0" height="2.0" fill="#000"/></g>
<g class="p"><rect x="162.5" y="170.5" width="86" height="68" fill="none" stroke="#9c9c9c" stroke-width="1.0"/><text x="160.25" y="0" text-anchor="end" transform="translate(0 172.42) scale(1 1.0) translate(0 0)">8000</text><path d="M162.5,178.5 h1.5" stroke="#9c9c9c" stroke-width="0.8" opacity="0.6"/><text x="160.25" y="0" text-anchor="end" transform="translate(0 180.92) scale(1 1.0) translate(0 0)">7000</text><path d="M162.5,187.5 h1.5" stroke="#9c9c9c" stroke-width="0.8" opacity="0.6"/><text x="160.25" y="0" text-anchor="end" transform="translate(0 189.42) scale(1 1.0) translate(0 0)">6000</text><path d="M162.5,195.5 h1.5" stroke="#9c9c9c" stroke-width="0.8" opacity="0.6"/><text x="160.25" y="0" text-anchor="end" transform="translate(0 197.92) scale(1 1.0) translate(0 0)">5000</text><path d="M162.5,204.5 h1.5" stroke="#9c9c9c" stroke-width="0.8" opacity="0.6"/><text x="160.25" y="0" text-anchor="end" transform="translate(0 206.42) scale(1 1.0) translate(0 0)">4000</text><path d="M162.5,212.5 h1.5" stroke="#9c9c9c" stroke-width="0.8" opacity="0.6"/><text x="160.25" y="0" text-anchor="end" transform="translate(0 214.92) scale(1 1.0) translate(0 0)">3000</text><path d="M162.5,221.5 h1.5" stroke="#9c9c9c" stroke-width="0.8" opacity="0.6"/><text x="160.25" y="0" text-anchor="end" transform="translate(0 223.42) scale(1 1.0) translate(0 0)">2000</text><path d="M162.5,229.5 h1.5" stroke="#9c9c9c" stroke-width="0.8" opacity="0.6"/><text x="160.25" y="0" text-anchor="end" transform="translate(0 231.92) scale(1 1.0) translate(0 0)">1000</text><text x="160.25" y="0" text-anchor="end" transform="translate(0 240.42) scale(1 1.0) translate(0 0)">0</text><text x="164.62" y="0" text-anchor="middle" transform="translate(0 245.52) scale(1 1.0)">0</text><path d="M181.5,238.5 v-1.5" stroke="#9c9c9c" stroke-width="0.8" opacity="0.6"/><text x="181.78" y="0" text-anchor="middle" transform="translate(0 245.52) scale(1 1.0)">20</text><path d="M198.5,238.5 v-1.5" stroke="#9c9c9c" stroke-width="0.8" opacity="0.6"/><text x="198.94" y="0" text-anchor="middle" transform="translate(0 245.52) scale(1 1.0)">40</text><path d="M215.5,238.5 v-1.5" stroke="#9c9c9c" stroke-width="0.8" opacity="0.6"/><text x="216.1" y="0" text-anchor="middle" transform="translate(0 245.52) scale(1 1.0)">60</text><path d="M233.5,238.5 v-1.5" stroke="#9c9c9c" stroke-width="0.8" opacity="0.6"/><text x="233.26" y="0" text-anchor="middle" transform="translate(0 245.52) scale(1 1.0)">80</text><text x="250.42" y="0" text-anchor="middle" transform="translate(0 245.52) scale(1 1.0)">100</text><path d="M163.75,178 L165.75,181.62 L167.75,185.01 L169.75,188.21 L171.75,191.22 L173.75,194.04 L175.75,196.7 L177.75,199.2 L179.75,201.55 L181.75,203.75 L183.75,205.83 L185.75,207.78 L187.75,209.62 L189.75,211.34 L191.75,212.97 L193.75,214.49 L195.75,215.93 L197.75,217.28 L199.75,218.54 L201.75,219.74 L203.75,220.86 L205.75,221.91 L207.75,222.9 L209.75,223.84 L211.75,224.71 L213.75,225.54 L215.75,226.31 L217.75,227.04 L219.75,227.72 L221.75,228.37 L223.75,228.97 L225.75,229.54 L227.75,230.08 L229.75,230.58 L231.75,231.05 L233.75,231.5 L235.75,231.92 L237.75,232.31 L239.75,232.68 L241.75,233.03 L243.75,233.36 L245.75,233.66 L247.75,233.95 L248.5,234.06" fill="none" stroke="#767676" stroke-width="0.95"/><rect x="162.75" y="177" width="2.0" height="2.0" fill="#000"/><rect x="199.5" y="218" width="2.0" height="2.0" fill="#000"/></g>
<g class="p"><rect x="168.5" y="253.5" width="78" height="64" fill="none" stroke="#9c9c9c" stroke-width="1.0"/><text x="166" y="0" text-anchor="end" transform="translate(0 255.42) scale(1 1.0) translate(0 0)">35000</text><path d="M168.5,262.5 h1.5" stroke="#9c9c9c" stroke-width="0.8" opacity="0.6"/><text x="166" y="0" text-anchor="end" transform="translate(0 264.56) scale(1 1.0) translate(0 0)">30000</text><path d="M168.5,271.5 h1.5" stroke="#9c9c9c" stroke-width="0.8" opacity="0.6"/><text x="166" y="0" text-anchor="end" transform="translate(0 273.7) scale(1 1.0) translate(0 0)">25000</text><path d="M168.5,280.5 h1.5" stroke="#9c9c9c" stroke-width="0.8" opacity="0.6"/><text x="166" y="0" text-anchor="end" transform="translate(0 282.84) scale(1 1.0) translate(0 0)">20000</text><path d="M168.5,289.5 h1.5" stroke="#9c9c9c" stroke-width="0.8" opacity="0.6"/><text x="166" y="0" text-anchor="end" transform="translate(0 291.99) scale(1 1.0) translate(0 0)">15000</text><path d="M168.5,299.5 h1.5" stroke="#9c9c9c" stroke-width="0.8" opacity="0.6"/><text x="166" y="0" text-anchor="end" transform="translate(0 301.13) scale(1 1.0) translate(0 0)">10000</text><path d="M168.5,308.5 h1.5" stroke="#9c9c9c" stroke-width="0.8" opacity="0.6"/><text x="166" y="0" text-anchor="end" transform="translate(0 310.27) scale(1 1.0) translate(0 0)">5000</text><text x="166" y="0" text-anchor="end" transform="translate(0 319.42) scale(1 1.0) translate(0 0)">0</text><text x="170.12" y="0" text-anchor="middle" transform="translate(0 324.42) scale(1 1.0)">0</text><path d="M185.5,317.5 v-1.5" stroke="#9c9c9c" stroke-width="0.8" opacity="0.6"/><text x="185.68" y="0" text-anchor="middle" transform="translate(0 324.42) scale(1 1.0)">20</text><path d="M201.5,317.5 v-1.5" stroke="#9c9c9c" stroke-width="0.8" opacity="0.6"/><text x="201.24" y="0" text-anchor="middle" transform="translate(0 324.42) scale(1 1.0)">40</text><path d="M216.5,317.5 v-1.5" stroke="#9c9c9c" stroke-width="0.8" opacity="0.6"/><text x="216.8" y="0" text-anchor="middle" transform="translate(0 324.42) scale(1 1.0)">60</text><path d="M232.5,317.5 v-1.5" stroke="#9c9c9c" stroke-width="0.8" opacity="0.6"/><text x="232.36" y="0" text-anchor="middle" transform="translate(0 324.42) scale(1 1.0)">80</text><text x="247.92" y="0" text-anchor="middle" transform="translate(0 324.42) scale(1 1.0)">100</text><path d="M169.25,262 L171.25,268.06 L173.25,273.46 L175.25,278.27 L177.25,282.56 L179.25,286.38 L181.25,289.78 L183.25,292.8 L185.25,295.5 L187.25,297.91 L189.25,300.05 L191.25,301.95 L193.25,303.65 L195.25,305.16 L197.25,306.51 L199.25,307.71 L201.25,308.78 L203.25,309.73 L205.25,310.58 L207.25,311.34 L209.25,312.01 L211.25,312.61 L213.25,313.14 L215.25,313.62 L217.25,314.04 L219.25,314.42 L221.25,314.76 L223.25,315.06 L225.25,315.32 L227.25,315.56 L229.25,315.77 L231.25,315.96 L233.25,316.13 L235.25,316.28 L237.25,316.41 L239.25,316.53 L241.25,316.64 L243.25,316.73 L245.25,316.82 L246.5,316.86" fill="none" stroke="#767676" stroke-width="0.95"/><rect x="168.25" y="261" width="2.0" height="2.0" fill="#000"/><rect x="210.75" y="311.75" width="2.0" height="2.0" fill="#000"/></g>
<g class="p"><rect x="168.5" y="332.5" width="84" height="65" fill="none" stroke="#9c9c9c" stroke-width="1.0"/><text x="166" y="0" text-anchor="end" transform="translate(0 334.42) scale(1 1.0) translate(0 0)">2500</text><path d="M168.5,345.5 h1.5" stroke="#9c9c9c" stroke-width="0.8" opacity="0.6"/><text x="166" y="0" text-anchor="end" transform="translate(0 347.42) scale(1 1.0) translate(0 0)">2000</text><path d="M168.5,358.5 h1.5" stroke="#9c9c9c" stroke-width="0.8" opacity="0.6"/><text x="166" y="0" text-anchor="end" transform="translate(0 360.42) scale(1 1.0) translate(0 0)">1500</text><path d="M168.5,371.5 h1.5" stroke="#9c9c9c" stroke-width="0.8" opacity="0.6"/><text x="166" y="0" text-anchor="end" transform="translate(0 373.42) scale(1 1.0) translate(0 0)">1000</text><path d="M168.5,384.5 h1.5" stroke="#9c9c9c" stroke-width="0.8" opacity="0.6"/><text x="166" y="0" text-anchor="end" transform="translate(0 386.42) scale(1 1.0) translate(0 0)">500</text><text x="166" y="0" text-anchor="end" transform="translate(0 399.42) scale(1 1.0) translate(0 0)">0</text><text x="170.62" y="0" text-anchor="middle" transform="translate(0 405.22) scale(1 1.0)">0</text><path d="M187.5,397.5 v-1.5" stroke="#9c9c9c" stroke-width="0.8" opacity="0.6"/><text x="187.28" y="0" text-anchor="middle" transform="translate(0 405.22) scale(1 1.0)">20</text><path d="M203.5,397.5 v-1.5" stroke="#9c9c9c" stroke-width="0.8" opacity="0.6"/><text x="203.94" y="0" text-anchor="middle" transform="translate(0 405.22) scale(1 1.0)">40</text><path d="M220.5,397.5 v-1.5" stroke="#9c9c9c" stroke-width="0.8" opacity="0.6"/><text x="220.6" y="0" text-anchor="middle" transform="translate(0 405.22) scale(1 1.0)">60</text><path d="M237.5,397.5 v-1.5" stroke="#9c9c9c" stroke-width="0.8" opacity="0.6"/><text x="237.26" y="0" text-anchor="middle" transform="translate(0 405.22) scale(1 1.0)">80</text><text x="253.92" y="0" text-anchor="middle" transform="translate(0 405.22) scale(1 1.0)">100</text><path d="M169.25,340.75 L171.25,344.68 L173.25,348.33 L175.25,351.74 L177.25,354.9 L179.25,357.85 L181.25,360.6 L183.25,363.15 L185.25,365.53 L187.25,367.74 L189.25,369.8 L191.25,371.72 L193.25,373.5 L195.25,375.16 L197.25,376.71 L199.25,378.15 L201.25,379.49 L203.25,380.74 L205.25,381.9 L207.25,382.98 L209.25,383.98 L211.25,384.92 L213.25,385.79 L215.25,386.6 L217.25,387.35 L219.25,388.06 L221.25,388.71 L223.25,389.32 L225.25,389.88 L227.25,390.41 L229.25,390.9 L231.25,391.36 L233.25,391.78 L235.25,392.18 L237.25,392.55 L239.25,392.89 L241.25,393.21 L243.25,393.51 L245.25,393.78 L247.25,394.04 L249.25,394.28 L251.25,394.5 L252.5,394.63" fill="none" stroke="#767676" stroke-width="0.95"/><rect x="168.25" y="339.75" width="2.0" height="2.0" fill="#000"/><rect x="214" y="385.5" width="2.0" height="2.0" fill="#000"/></g>
<g class="p"><rect x="294.5" y="2.5" width="80" height="62" fill="none" stroke="#9c9c9c" stroke-width="1.0"/><text x="292.25" y="0" text-anchor="end" transform="translate(0 4.42) scale(1 1.0) translate(0 0)">500</text><path d="M294.5,8.5 h1.5" stroke="#9c9c9c" stroke-width="0.8" opacity="0.6"/><text x="292.25" y="0" text-anchor="end" transform="translate(0 10.62) scale(1 1.0) translate(0 0)">450</text><path d="M294.5,14.5 h1.5" stroke="#9c9c9c" stroke-width="0.8" opacity="0.6"/><text x="292.25" y="0" text-anchor="end" transform="translate(0 16.82) scale(1 1.0) translate(0 0)">400</text><path d="M294.5,21.5 h1.5" stroke="#9c9c9c" stroke-width="0.8" opacity="0.6"/><text x="292.25" y="0" text-anchor="end" transform="translate(0 23.02) scale(1 1.0) translate(0 0)">350</text><path d="M294.5,27.5 h1.5" stroke="#9c9c9c" stroke-width="0.8" opacity="0.6"/><text x="292.25" y="0" text-anchor="end" transform="translate(0 29.22) scale(1 1.0) translate(0 0)">300</text><path d="M294.5,33.5 h1.5" stroke="#9c9c9c" stroke-width="0.8" opacity="0.6"/><text x="292.25" y="0" text-anchor="end" transform="translate(0 35.42) scale(1 1.0) translate(0 0)">250</text><path d="M294.5,39.5 h1.5" stroke="#9c9c9c" stroke-width="0.8" opacity="0.6"/><text x="292.25" y="0" text-anchor="end" transform="translate(0 41.62) scale(1 1.0) translate(0 0)">200</text><path d="M294.5,45.5 h1.5" stroke="#9c9c9c" stroke-width="0.8" opacity="0.6"/><text x="292.25" y="0" text-anchor="end" transform="translate(0 47.82) scale(1 1.0) translate(0 0)">150</text><path d="M294.5,52.5 h1.5" stroke="#9c9c9c" stroke-width="0.8" opacity="0.6"/><text x="292.25" y="0" text-anchor="end" transform="translate(0 54.02) scale(1 1.0) translate(0 0)">100</text><path d="M294.5,58.5 h1.5" stroke="#9c9c9c" stroke-width="0.8" opacity="0.6"/><text x="292.25" y="0" text-anchor="end" transform="translate(0 60.22) scale(1 1.0) translate(0 0)">50</text><text x="292.25" y="0" text-anchor="end" transform="translate(0 66.42) scale(1 1.0) translate(0 0)">0</text><text x="297.52" y="0" text-anchor="middle" transform="translate(0 71.02) scale(1 1.0)">0</text><path d="M312.5,64.5 v-1.5" stroke="#9c9c9c" stroke-width="0.8" opacity="0.6"/><text x="313.04" y="0" text-anchor="middle" transform="translate(0 71.02) scale(1 1.0)">100</text><path d="M328.5,64.5 v-1.5" stroke="#9c9c9c" stroke-width="0.8" opacity="0.6"/><text x="328.56" y="0" text-anchor="middle" transform="translate(0 71.02) scale(1 1.0)">200</text><path d="M343.5,64.5 v-1.5" stroke="#9c9c9c" stroke-width="0.8" opacity="0.6"/><text x="344.08" y="0" text-anchor="middle" transform="translate(0 71.02) scale(1 1.0)">300</text><path d="M359.5,64.5 v-1.5" stroke="#9c9c9c" stroke-width="0.8" opacity="0.6"/><text x="359.6" y="0" text-anchor="middle" transform="translate(0 71.02) scale(1 1.0)">400</text><text x="375.12" y="0" text-anchor="middle" transform="translate(0 71.02) scale(1 1.0)">500</text><path d="M295,60 C295.21,57.08 295.83,47.92 296.25,42.5 C296.67,37.08 296.96,32.08 297.5,27.5 C298.04,22.92 298.88,18 299.5,15 C300.12,12 300.67,10.67 301.25,9.5 C301.83,8.33 302.38,8 303,8 C303.62,8 304.04,7.92 305,9.5 C305.96,11.08 307.38,14.29 308.75,17.5 C310.12,20.71 311.79,25.29 313.25,28.75 C314.71,32.21 315.96,35.21 317.5,38.25 C319.04,41.29 320.83,44.62 322.5,47 C324.17,49.38 325.42,50.83 327.5,52.5 C329.58,54.17 332.08,55.75 335,57 C337.92,58.25 340.83,59.17 345,60 C349.17,60.83 355.08,61.54 360,62 C364.92,62.46 372.08,62.62 374.5,62.75" fill="none" stroke="#767676" stroke-width="0.95"/><rect x="294.75" y="55.25" width="2.0" height="2.0" fill="#000"/><rect x="295.75" y="32.75" width="2.0" height="2.0" fill="#000"/><rect x="297" y="27.25" width="2.0" height="2.0" fill="#000"/><rect x="298" y="20.75" width="2.0" height="2.0" fill="#000"/><rect x="299.25" y="12" width="2.0" height="2.0" fill="#000"/><rect x="300.5" y="10" width="2.0" height="2.0" fill="#000"/><rect x="301.5" y="7.25" width="2.0" height="2.0" fill="#000"/><rect x="303" y="8.25" width="2.0" height="2.0" fill="#000"/><rect x="307.75" y="20.25" width="2.0" height="2.0" fill="#000"/><rect x="312.25" y="28.5" width="2.0" height="2.0" fill="#000"/><rect x="316.5" y="37.25" width="2.0" height="2.0" fill="#000"/><rect x="320.25" y="44.5" width="2.0" height="2.0" fill="#000"/><rect x="324" y="50.25" width="2.0" height="2.0" fill="#000"/><rect x="327" y="51" width="2.0" height="2.0" fill="#000"/><rect x="329.5" y="53.5" width="2.0" height="2.0" fill="#000"/><rect x="334" y="56" width="2.0" height="2.0" fill="#000"/><rect x="338.5" y="58" width="2.0" height="2.0" fill="#000"/><rect x="342.75" y="59.5" width="2.0" height="2.0" fill="#000"/><rect x="347.25" y="60" width="2.0" height="2.0" fill="#000"/><rect x="351.5" y="60.5" width="2.0" height="2.0" fill="#000"/><rect x="355.75" y="61" width="2.0" height="2.0" fill="#000"/><rect x="360.25" y="61" width="2.0" height="2.0" fill="#000"/><rect x="364.75" y="61.5" width="2.0" height="2.0" fill="#000"/><rect x="369" y="61.75" width="2.0" height="2.0" fill="#000"/><rect x="373.5" y="61.75" width="2.0" height="2.0" fill="#000"/><text x="365.7" y="15.21" text-anchor="middle" style="font-size:7.8px;fill:#111;font-weight:normal;letter-spacing:0;stroke:#111;stroke-width:0.3px">6</text></g>
<g class="p"><rect x="293.5" y="76.5" width="80" height="61" fill="none" stroke="#9c9c9c" stroke-width="1.0"/><text x="291.5" y="0" text-anchor="end" transform="translate(0 78.42) scale(1 1.0) translate(0 0)">180</text><path d="M293.5,83.5 h1.5" stroke="#9c9c9c" stroke-width="0.8" opacity="0.6"/><text x="291.5" y="0" text-anchor="end" transform="translate(0 85.19) scale(1 1.0) translate(0 0)">160</text><path d="M293.5,89.5 h1.5" stroke="#9c9c9c" stroke-width="0.8" opacity="0.6"/><text x="291.5" y="0" text-anchor="end" transform="translate(0 91.97) scale(1 1.0) translate(0 0)">140</text><path d="M293.5,96.5 h1.5" stroke="#9c9c9c" stroke-width="0.8" opacity="0.6"/><text x="291.5" y="0" text-anchor="end" transform="translate(0 98.75) scale(1 1.0) translate(0 0)">120</text><path d="M293.5,103.5 h1.5" stroke="#9c9c9c" stroke-width="0.8" opacity="0.6"/><text x="291.5" y="0" text-anchor="end" transform="translate(0 105.53) scale(1 1.0) translate(0 0)">100</text><path d="M293.5,110.5 h1.5" stroke="#9c9c9c" stroke-width="0.8" opacity="0.6"/><text x="291.5" y="0" text-anchor="end" transform="translate(0 112.3) scale(1 1.0) translate(0 0)">80</text><path d="M293.5,117.5 h1.5" stroke="#9c9c9c" stroke-width="0.8" opacity="0.6"/><text x="291.5" y="0" text-anchor="end" transform="translate(0 119.08) scale(1 1.0) translate(0 0)">60</text><path d="M293.5,123.5 h1.5" stroke="#9c9c9c" stroke-width="0.8" opacity="0.6"/><text x="291.5" y="0" text-anchor="end" transform="translate(0 125.86) scale(1 1.0) translate(0 0)">40</text><path d="M293.5,130.5 h1.5" stroke="#9c9c9c" stroke-width="0.8" opacity="0.6"/><text x="291.5" y="0" text-anchor="end" transform="translate(0 132.64) scale(1 1.0) translate(0 0)">20</text><text x="291.5" y="0" text-anchor="end" transform="translate(0 139.42) scale(1 1.0) translate(0 0)">0</text><text x="295.87" y="0" text-anchor="middle" transform="translate(0 144.52) scale(1 1.0)">0</text><path d="M311.5,137.5 v-1.5" stroke="#9c9c9c" stroke-width="0.8" opacity="0.6"/><text x="311.72" y="0" text-anchor="middle" transform="translate(0 144.52) scale(1 1.0)">100</text><path d="M327.5,137.5 v-1.5" stroke="#9c9c9c" stroke-width="0.8" opacity="0.6"/><text x="327.57" y="0" text-anchor="middle" transform="translate(0 144.52) scale(1 1.0)">200</text><path d="M343.5,137.5 v-1.5" stroke="#9c9c9c" stroke-width="0.8" opacity="0.6"/><text x="343.42" y="0" text-anchor="middle" transform="translate(0 144.52) scale(1 1.0)">300</text><path d="M359.5,137.5 v-1.5" stroke="#9c9c9c" stroke-width="0.8" opacity="0.6"/><text x="359.27" y="0" text-anchor="middle" transform="translate(0 144.52) scale(1 1.0)">400</text><text x="375.12" y="0" text-anchor="middle" transform="translate(0 144.52) scale(1 1.0)">500</text><path d="M294.8,136.5 C294.9,134.63 295.18,129.08 295.4,125.3 C295.62,121.52 295.85,117.38 296.1,113.8 C296.35,110.22 296.53,107.13 296.9,103.8 C297.27,100.47 297.72,96.43 298.3,93.8 C298.88,91.17 299.63,89.32 300.4,88 C301.17,86.68 302.05,86.02 302.9,85.9 C303.75,85.78 304.6,86.35 305.5,87.3 C306.4,88.25 307.35,89.8 308.3,91.6 C309.25,93.4 310.23,95.95 311.2,98.1 C312.17,100.25 313.15,102.48 314.1,104.5 C315.05,106.52 315.95,108.48 316.9,110.2 C317.85,111.92 318.83,113.37 319.8,114.8 C320.77,116.23 321.5,117.3 322.7,118.8 C323.9,120.3 325.58,122.37 327,123.8 C328.42,125.23 329.53,126.32 331.2,127.4 C332.87,128.48 335.08,129.47 337,130.3 C338.92,131.13 340.53,131.75 342.7,132.4 C344.87,133.05 347.12,133.7 350,134.2 C352.88,134.7 356.17,135.1 360,135.4 C363.83,135.7 370.83,135.9 373,136" fill="none" stroke="#767676" stroke-width="0.95"/><rect x="294.75" y="129" width="2.0" height="2.0" fill="#000"/><rect x="296" y="116" width="2.0" height="2.0" fill="#000"/><rect x="297" y="108.5" width="2.0" height="2.0" fill="#000"/><rect x="298" y="97" width="2.0" height="2.0" fill="#000"/><rect x="300.25" y="80.5" width="2.0" height="2.0" fill="#000"/><rect x="302" y="85.5" width="2.0" height="2.0" fill="#000"/><rect x="306.5" y="87.75" width="2.0" height="2.0" fill="#000"/><rect x="311.25" y="82.75" width="2.0" height="2.0" fill="#000"/><rect x="315" y="98.5" width="2.0" height="2.0" fill="#000"/><rect x="320.5" y="122.75" width="2.0" height="2.0" fill="#000"/><rect x="324.75" y="131.75" width="2.0" height="2.0" fill="#000"/><rect x="329" y="124.5" width="2.0" height="2.0" fill="#000"/><rect x="333.25" y="129" width="2.0" height="2.0" fill="#000"/><rect x="333.5" y="132.25" width="2.0" height="2.0" fill="#000"/><rect x="342.25" y="135" width="2.0" height="2.0" fill="#000"/><rect x="347" y="134.5" width="2.0" height="2.0" fill="#000"/><rect x="351" y="134.5" width="2.0" height="2.0" fill="#000"/><rect x="355.25" y="132" width="2.0" height="2.0" fill="#000"/><rect x="360.25" y="135" width="2.0" height="2.0" fill="#000"/><rect x="364.5" y="135.75" width="2.0" height="2.0" fill="#000"/><rect x="372.75" y="135" width="2.0" height="2.0" fill="#000"/><text x="365" y="89.31" text-anchor="middle" style="font-size:7.8px;fill:#111;font-weight:normal;letter-spacing:0;stroke:#111;stroke-width:0.3px">7</text></g>
<g class="p"><rect x="295.5" y="155.5" width="81" height="65" fill="none" stroke="#9c9c9c" stroke-width="1.0"/><text x="294" y="0" text-anchor="end" transform="translate(0 157.42) scale(1 1.0) translate(0 0)">1000</text><path d="M295.5,161.5 h1.5" stroke="#9c9c9c" stroke-width="0.8" opacity="0.6"/><text x="294" y="0" text-anchor="end" transform="translate(0 163.92) scale(1 1.0) translate(0 0)">900</text><path d="M295.5,168.5 h1.5" stroke="#9c9c9c" stroke-width="0.8" opacity="0.6"/><text x="294" y="0" text-anchor="end" transform="translate(0 170.42) scale(1 1.0) translate(0 0)">800</text><path d="M295.5,174.5 h1.5" stroke="#9c9c9c" stroke-width="0.8" opacity="0.6"/><text x="294" y="0" text-anchor="end" transform="translate(0 176.92) scale(1 1.0) translate(0 0)">700</text><path d="M295.5,181.5 h1.5" stroke="#9c9c9c" stroke-width="0.8" opacity="0.6"/><text x="294" y="0" text-anchor="end" transform="translate(0 183.42) scale(1 1.0) translate(0 0)">600</text><path d="M295.5,187.5 h1.5" stroke="#9c9c9c" stroke-width="0.8" opacity="0.6"/><text x="294" y="0" text-anchor="end" transform="translate(0 189.92) scale(1 1.0) translate(0 0)">500</text><path d="M295.5,194.5 h1.5" stroke="#9c9c9c" stroke-width="0.8" opacity="0.6"/><text x="294" y="0" text-anchor="end" transform="translate(0 196.42) scale(1 1.0) translate(0 0)">400</text><path d="M295.5,200.5 h1.5" stroke="#9c9c9c" stroke-width="0.8" opacity="0.6"/><text x="294" y="0" text-anchor="end" transform="translate(0 202.92) scale(1 1.0) translate(0 0)">300</text><path d="M295.5,207.5 h1.5" stroke="#9c9c9c" stroke-width="0.8" opacity="0.6"/><text x="294" y="0" text-anchor="end" transform="translate(0 209.42) scale(1 1.0) translate(0 0)">200</text><path d="M295.5,213.5 h1.5" stroke="#9c9c9c" stroke-width="0.8" opacity="0.6"/><text x="294" y="0" text-anchor="end" transform="translate(0 215.92) scale(1 1.0) translate(0 0)">100</text><text x="294" y="0" text-anchor="end" transform="translate(0 222.42) scale(1 1.0) translate(0 0)">0</text><text x="298.12" y="0" text-anchor="middle" transform="translate(0 227.52) scale(1 1.0)">0</text><path d="M313.5,220.5 v-1.5" stroke="#9c9c9c" stroke-width="0.8" opacity="0.6"/><text x="314.04" y="0" text-anchor="middle" transform="translate(0 227.52) scale(1 1.0)">100</text><path d="M329.5,220.5 v-1.5" stroke="#9c9c9c" stroke-width="0.8" opacity="0.6"/><text x="329.96" y="0" text-anchor="middle" transform="translate(0 227.52) scale(1 1.0)">200</text><path d="M345.5,220.5 v-1.5" stroke="#9c9c9c" stroke-width="0.8" opacity="0.6"/><text x="345.88" y="0" text-anchor="middle" transform="translate(0 227.52) scale(1 1.0)">300</text><path d="M361.5,220.5 v-1.5" stroke="#9c9c9c" stroke-width="0.8" opacity="0.6"/><text x="361.8" y="0" text-anchor="middle" transform="translate(0 227.52) scale(1 1.0)">400</text><text x="377.72" y="0" text-anchor="middle" transform="translate(0 227.52) scale(1 1.0)">500</text><path d="M297,178.75 C297.17,177.29 297.5,172.62 298,170 C298.5,167.38 299.42,164.53 300,163 C300.58,161.47 301.02,161.25 301.5,160.8 C301.98,160.35 302.35,160.1 302.9,160.3 C303.45,160.5 304.17,161.18 304.8,162 C305.43,162.82 306.12,164.2 306.7,165.2 C307.28,166.2 307.78,166.98 308.3,168 C308.82,169.02 309.3,170.13 309.8,171.3 C310.3,172.47 310.8,173.73 311.3,175 C311.8,176.27 312.28,177.67 312.8,178.9 C313.32,180.13 313.88,181.25 314.4,182.4 C314.92,183.55 315.4,184.7 315.9,185.8 C316.4,186.9 316.9,187.98 317.4,189 C317.9,190.02 318.27,190.87 318.9,191.9 C319.53,192.93 320.43,194.18 321.2,195.2 C321.97,196.22 322.73,197.12 323.5,198 C324.27,198.88 325.03,199.73 325.8,200.5 C326.57,201.27 327.23,201.9 328.1,202.6 C328.97,203.3 329.98,204.05 331,204.7 C332.02,205.35 333.03,205.9 334.2,206.5 C335.37,207.1 336.72,207.75 338,208.3 C339.28,208.85 340.62,209.35 341.9,209.8 C343.18,210.25 344.02,210.55 345.7,211 C347.38,211.45 349.62,212 352,212.5 C354.38,213 357.21,213.5 360,214 C362.79,214.5 367.29,215.25 368.75,215.5" fill="none" stroke="#767676" stroke-width="0.95"/><rect x="296.5" y="174.5" width="2.0" height="2.0" fill="#000"/><rect x="297.5" y="171" width="2.0" height="2.0" fill="#000"/><rect x="298.25" y="169.75" width="2.0" height="2.0" fill="#000"/><rect x="299" y="156" width="2.0" height="2.0" fill="#000"/><rect x="300.25" y="157" width="2.0" height="2.0" fill="#000"/><rect x="303.25" y="157" width="2.0" height="2.0" fill="#000"/><rect x="304.75" y="174" width="2.0" height="2.0" fill="#000"/><rect x="309" y="164.75" width="2.0" height="2.0" fill="#000"/><rect x="313.5" y="176.5" width="2.0" height="2.0" fill="#000"/><rect x="318" y="188.5" width="2.0" height="2.0" fill="#000"/><rect x="322.75" y="189.75" width="2.0" height="2.0" fill="#000"/><rect x="327" y="200.25" width="2.0" height="2.0" fill="#000"/><rect x="332.75" y="209.25" width="2.0" height="2.0" fill="#000"/><rect x="337.25" y="209.75" width="2.0" height="2.0" fill="#000"/><rect x="338.5" y="207.25" width="2.0" height="2.0" fill="#000"/><rect x="345.75" y="205.75" width="2.0" height="2.0" fill="#000"/><rect x="350.25" y="211" width="2.0" height="2.0" fill="#000"/><rect x="353.75" y="211" width="2.0" height="2.0" fill="#000"/><rect x="358" y="212" width="2.0" height="2.0" fill="#000"/><rect x="362.5" y="213.5" width="2.0" height="2.0" fill="#000"/><rect x="367" y="214" width="2.0" height="2.0" fill="#000"/><text x="368.8" y="167.71" text-anchor="middle" style="font-size:7.8px;fill:#111;font-weight:normal;letter-spacing:0;stroke:#111;stroke-width:0.3px">8</text></g>
<g class="p"><rect x="294.5" y="240.5" width="84" height="66" fill="none" stroke="#9c9c9c" stroke-width="1.0"/><text x="292" y="0" text-anchor="end" transform="translate(0 242.42) scale(1 1.0) translate(0 0)">700</text><path d="M294.5,249.5 h1.5" stroke="#9c9c9c" stroke-width="0.8" opacity="0.6"/><text x="292" y="0" text-anchor="end" transform="translate(0 251.84) scale(1 1.0) translate(0 0)">600</text><path d="M294.5,259.5 h1.5" stroke="#9c9c9c" stroke-width="0.8" opacity="0.6"/><text x="292" y="0" text-anchor="end" transform="translate(0 261.27) scale(1 1.0) translate(0 0)">500</text><path d="M294.5,268.5 h1.5" stroke="#9c9c9c" stroke-width="0.8" opacity="0.6"/><text x="292" y="0" text-anchor="end" transform="translate(0 270.7) scale(1 1.0) translate(0 0)">400</text><path d="M294.5,278.5 h1.5" stroke="#9c9c9c" stroke-width="0.8" opacity="0.6"/><text x="292" y="0" text-anchor="end" transform="translate(0 280.13) scale(1 1.0) translate(0 0)">300</text><path d="M294.5,287.5 h1.5" stroke="#9c9c9c" stroke-width="0.8" opacity="0.6"/><text x="292" y="0" text-anchor="end" transform="translate(0 289.56) scale(1 1.0) translate(0 0)">200</text><path d="M294.5,296.5 h1.5" stroke="#9c9c9c" stroke-width="0.8" opacity="0.6"/><text x="292" y="0" text-anchor="end" transform="translate(0 298.99) scale(1 1.0) translate(0 0)">100</text><text x="292" y="0" text-anchor="end" transform="translate(0 308.42) scale(1 1.0) translate(0 0)">0</text><text x="297.62" y="0" text-anchor="middle" transform="translate(0 313.42) scale(1 1.0)">0</text><path d="M311.5,306.5 v-1.5" stroke="#9c9c9c" stroke-width="0.8" opacity="0.6"/><text x="311.54" y="0" text-anchor="middle" transform="translate(0 313.42) scale(1 1.0)">50</text><path d="M325.5,306.5 v-1.5" stroke="#9c9c9c" stroke-width="0.8" opacity="0.6"/><text x="325.45" y="0" text-anchor="middle" transform="translate(0 313.42) scale(1 1.0)">100</text><path d="M339.5,306.5 v-1.5" stroke="#9c9c9c" stroke-width="0.8" opacity="0.6"/><text x="339.37" y="0" text-anchor="middle" transform="translate(0 313.42) scale(1 1.0)">150</text><path d="M353.5,306.5 v-1.5" stroke="#9c9c9c" stroke-width="0.8" opacity="0.6"/><text x="353.29" y="0" text-anchor="middle" transform="translate(0 313.42) scale(1 1.0)">200</text><path d="M367.5,306.5 v-1.5" stroke="#9c9c9c" stroke-width="0.8" opacity="0.6"/><text x="367.2" y="0" text-anchor="middle" transform="translate(0 313.42) scale(1 1.0)">250</text><text x="381.12" y="0" text-anchor="middle" transform="translate(0 313.42) scale(1 1.0)">300</text><path d="M295.6,276 C295.75,273.67 296.13,266.05 296.5,262 C296.87,257.95 297.25,254.13 297.8,251.7 C298.35,249.27 299.18,247.65 299.8,247.4 C300.42,247.15 300.93,248.97 301.5,250.2 C302.07,251.43 302.67,253.3 303.2,254.8 C303.73,256.3 304.2,257.68 304.7,259.2 C305.2,260.72 305.68,262.33 306.2,263.9 C306.72,265.47 307.28,267.07 307.8,268.6 C308.32,270.13 308.8,271.67 309.3,273.1 C309.8,274.53 310.3,275.92 310.8,277.2 C311.3,278.48 311.68,279.63 312.3,280.8 C312.92,281.97 313.73,283.18 314.5,284.2 C315.27,285.22 316.02,286.05 316.9,286.9 C317.78,287.75 318.78,288.53 319.8,289.3 C320.82,290.07 321.88,290.92 323,291.5 C324.12,292.08 325.22,292.42 326.5,292.8 C327.78,293.18 328.95,293.45 330.7,293.8 C332.45,294.15 334.95,294.58 337,294.9 C339.05,295.22 340,295.48 343,295.7 C346,295.92 351,296.07 355,296.2 C359,296.33 365,296.45 367,296.5" fill="none" stroke="#767676" stroke-width="0.95"/><rect x="295" y="274" width="2.0" height="2.0" fill="#000"/><rect x="297" y="251" width="2.0" height="2.0" fill="#000"/><rect x="298.5" y="247" width="2.0" height="2.0" fill="#000"/><rect x="300.75" y="253.5" width="2.0" height="2.0" fill="#000"/><rect x="302.75" y="252.75" width="2.0" height="2.0" fill="#000"/><rect x="306.5" y="266" width="2.0" height="2.0" fill="#000"/><rect x="310.25" y="277.25" width="2.0" height="2.0" fill="#000"/><rect x="318" y="286" width="2.0" height="2.0" fill="#000"/><rect x="326" y="292" width="2.0" height="2.0" fill="#000"/><rect x="333.25" y="289.5" width="2.0" height="2.0" fill="#000"/><rect x="341.5" y="296" width="2.0" height="2.0" fill="#000"/><rect x="348.5" y="294.25" width="2.0" height="2.0" fill="#000"/><rect x="356.5" y="295.75" width="2.0" height="2.0" fill="#000"/><rect x="364" y="296.5" width="2.0" height="2.0" fill="#000"/><text x="370.6" y="252.51" text-anchor="middle" style="font-size:7.8px;fill:#111;font-weight:normal;letter-spacing:0;stroke:#111;stroke-width:0.3px">9</text></g>
<g class="p"><rect x="296.5" y="333.5" width="84" height="65" fill="none" stroke="#9c9c9c" stroke-width="1.0"/><text x="293.05" y="0" text-anchor="end" transform="translate(0 335.42) scale(1 1.0) translate(0 0)">450</text><path d="M296.5,340.5 h1.5" stroke="#9c9c9c" stroke-width="0.8" opacity="0.6"/><text x="293.05" y="0" text-anchor="end" transform="translate(0 342.64) scale(1 1.0) translate(0 0)">400</text><path d="M296.5,347.5 h1.5" stroke="#9c9c9c" stroke-width="0.8" opacity="0.6"/><text x="293.05" y="0" text-anchor="end" transform="translate(0 349.86) scale(1 1.0) translate(0 0)">350</text><path d="M296.5,355.5 h1.5" stroke="#9c9c9c" stroke-width="0.8" opacity="0.6"/><text x="293.05" y="0" text-anchor="end" transform="translate(0 357.08) scale(1 1.0) translate(0 0)">300</text><path d="M296.5,362.5 h1.5" stroke="#9c9c9c" stroke-width="0.8" opacity="0.6"/><text x="293.05" y="0" text-anchor="end" transform="translate(0 364.3) scale(1 1.0) translate(0 0)">250</text><path d="M296.5,369.5 h1.5" stroke="#9c9c9c" stroke-width="0.8" opacity="0.6"/><text x="293.05" y="0" text-anchor="end" transform="translate(0 371.53) scale(1 1.0) translate(0 0)">200</text><path d="M296.5,376.5 h1.5" stroke="#9c9c9c" stroke-width="0.8" opacity="0.6"/><text x="293.05" y="0" text-anchor="end" transform="translate(0 378.75) scale(1 1.0) translate(0 0)">150</text><path d="M296.5,383.5 h1.5" stroke="#9c9c9c" stroke-width="0.8" opacity="0.6"/><text x="293.05" y="0" text-anchor="end" transform="translate(0 385.97) scale(1 1.0) translate(0 0)">100</text><path d="M296.5,391.5 h1.5" stroke="#9c9c9c" stroke-width="0.8" opacity="0.6"/><text x="293.05" y="0" text-anchor="end" transform="translate(0 393.19) scale(1 1.0) translate(0 0)">50</text><text x="293.05" y="0" text-anchor="end" transform="translate(0 400.42) scale(1 1.0) translate(0 0)">0</text><text x="299.72" y="0" text-anchor="middle" transform="translate(0 405.22) scale(1 1.0)">0</text><path d="M316.5,398.5 v-1.5" stroke="#9c9c9c" stroke-width="0.8" opacity="0.6"/><text x="316.2" y="0" text-anchor="middle" transform="translate(0 405.22) scale(1 1.0)">50</text><path d="M332.5,398.5 v-1.5" stroke="#9c9c9c" stroke-width="0.8" opacity="0.6"/><text x="332.68" y="0" text-anchor="middle" transform="translate(0 405.22) scale(1 1.0)">100</text><path d="M349.5,398.5 v-1.5" stroke="#9c9c9c" stroke-width="0.8" opacity="0.6"/><text x="349.16" y="0" text-anchor="middle" transform="translate(0 405.22) scale(1 1.0)">150</text><path d="M365.5,398.5 v-1.5" stroke="#9c9c9c" stroke-width="0.8" opacity="0.6"/><text x="365.64" y="0" text-anchor="middle" transform="translate(0 405.22) scale(1 1.0)">200</text><text x="382.12" y="0" text-anchor="middle" transform="translate(0 405.22) scale(1 1.0)">250</text><path d="M297.3,394.5 C297.33,394.1 297.2,394.53 297.5,392.1 C297.8,389.67 298.58,383.98 299.1,379.9 C299.62,375.82 299.97,371.43 300.6,367.6 C301.23,363.77 302.13,359.95 302.9,356.9 C303.67,353.85 304.43,351.2 305.2,349.3 C305.97,347.4 306.62,346.47 307.5,345.5 C308.38,344.53 309.37,343.5 310.5,343.5 C311.63,343.5 313.28,344.78 314.3,345.5 C315.32,346.22 315.83,346.92 316.6,347.8 C317.37,348.68 318.13,349.67 318.9,350.8 C319.67,351.93 320.43,353.32 321.2,354.6 C321.97,355.88 322.73,357.28 323.5,358.5 C324.27,359.72 325.03,360.85 325.8,361.9 C326.57,362.95 327.33,363.88 328.1,364.8 C328.87,365.72 329.28,366.23 330.4,367.4 C331.52,368.57 333.27,370.23 334.8,371.8 C336.33,373.37 338,375.32 339.6,376.8 C341.2,378.28 342.8,379.57 344.4,380.7 C346,381.83 347.6,382.75 349.2,383.6 C350.8,384.45 352.4,385.17 354,385.8 C355.6,386.43 357.18,386.92 358.8,387.4 C360.42,387.88 362.08,388.33 363.7,388.7 C365.32,389.07 366.82,389.25 368.5,389.6 C370.18,389.95 372.88,390.6 373.75,390.8" fill="none" stroke="#767676" stroke-width="0.95"/><rect x="297.25" y="390.75" width="2.0" height="2.0" fill="#000"/><rect x="299.75" y="370.75" width="2.0" height="2.0" fill="#000"/><rect x="302.25" y="364.5" width="2.0" height="2.0" fill="#000"/><rect x="304.75" y="345.25" width="2.0" height="2.0" fill="#000"/><rect x="306.5" y="343.25" width="2.0" height="2.0" fill="#000"/><rect x="309.5" y="337" width="2.0" height="2.0" fill="#000"/><rect x="315" y="347.75" width="2.0" height="2.0" fill="#000"/><rect x="324.5" y="349.75" width="2.0" height="2.0" fill="#000"/><rect x="333.5" y="387.75" width="2.0" height="2.0" fill="#000"/><rect x="342.75" y="374.75" width="2.0" height="2.0" fill="#000"/><rect x="361" y="385.75" width="2.0" height="2.0" fill="#000"/><rect x="370.25" y="388.25" width="2.0" height="2.0" fill="#000"/><text x="374" y="345.11" text-anchor="middle" style="font-size:7.8px;fill:#111;font-weight:normal;letter-spacing:0;stroke:#111;stroke-width:0.3px">10</text></g>
<g class="p"><rect x="422.5" y="2.5" width="78" height="62" fill="none" stroke="#9c9c9c" stroke-width="1.0"/><text x="420.25" y="0" text-anchor="end" transform="translate(0 4.42) scale(1 1.0) translate(0 0)">4500</text><path d="M422.5,9.5 h1.5" stroke="#9c9c9c" stroke-width="0.8" opacity="0.6"/><text x="420.25" y="0" text-anchor="end" transform="translate(0 11.3) scale(1 1.0) translate(0 0)">4000</text><path d="M422.5,16.5 h1.5" stroke="#9c9c9c" stroke-width="0.8" opacity="0.6"/><text x="420.25" y="0" text-anchor="end" transform="translate(0 18.19) scale(1 1.0) translate(0 0)">3500</text><path d="M422.5,23.5 h1.5" stroke="#9c9c9c" stroke-width="0.8" opacity="0.6"/><text x="420.25" y="0" text-anchor="end" transform="translate(0 25.08) scale(1 1.0) translate(0 0)">3000</text><path d="M422.5,29.5 h1.5" stroke="#9c9c9c" stroke-width="0.8" opacity="0.6"/><text x="420.25" y="0" text-anchor="end" transform="translate(0 31.97) scale(1 1.0) translate(0 0)">2500</text><path d="M422.5,36.5 h1.5" stroke="#9c9c9c" stroke-width="0.8" opacity="0.6"/><text x="420.25" y="0" text-anchor="end" transform="translate(0 38.86) scale(1 1.0) translate(0 0)">2000</text><path d="M422.5,43.5 h1.5" stroke="#9c9c9c" stroke-width="0.8" opacity="0.6"/><text x="420.25" y="0" text-anchor="end" transform="translate(0 45.75) scale(1 1.0) translate(0 0)">1500</text><path d="M422.5,50.5 h1.5" stroke="#9c9c9c" stroke-width="0.8" opacity="0.6"/><text x="420.25" y="0" text-anchor="end" transform="translate(0 52.64) scale(1 1.0) translate(0 0)">1000</text><path d="M422.5,57.5 h1.5" stroke="#9c9c9c" stroke-width="0.8" opacity="0.6"/><text x="420.25" y="0" text-anchor="end" transform="translate(0 59.53) scale(1 1.0) translate(0 0)">500</text><text x="420.25" y="0" text-anchor="end" transform="translate(0 66.42) scale(1 1.0) translate(0 0)">0</text><text x="424.37" y="0" text-anchor="middle" transform="translate(0 70.77) scale(1 1.0)">0</text><path d="M439.5,64.5 v-1.5" stroke="#9c9c9c" stroke-width="0.8" opacity="0.6"/><text x="439.87" y="0" text-anchor="middle" transform="translate(0 70.77) scale(1 1.0)">20</text><path d="M455.5,64.5 v-1.5" stroke="#9c9c9c" stroke-width="0.8" opacity="0.6"/><text x="455.37" y="0" text-anchor="middle" transform="translate(0 70.77) scale(1 1.0)">40</text><path d="M470.5,64.5 v-1.5" stroke="#9c9c9c" stroke-width="0.8" opacity="0.6"/><text x="470.87" y="0" text-anchor="middle" transform="translate(0 70.77) scale(1 1.0)">60</text><path d="M486.5,64.5 v-1.5" stroke="#9c9c9c" stroke-width="0.8" opacity="0.6"/><text x="486.37" y="0" text-anchor="middle" transform="translate(0 70.77) scale(1 1.0)">80</text><text x="501.87" y="0" text-anchor="middle" transform="translate(0 70.77) scale(1 1.0)">100</text><path d="M423,7.5 L425,11.98 L427,16.11 L429,19.92 L431,23.42 L433,26.65 L435,29.63 L437,32.37 L439,34.9 L441,37.23 L443,39.37 L445,41.35 L447,43.17 L449,44.85 L451,46.39 L453,47.82 L455,49.13 L457,50.34 L459,51.45 L461,52.48 L463,53.42 L465,54.29 L467,55.1 L469,55.84 L471,56.52 L473,57.14 L475,57.72 L477,58.26 L479,58.75 L481,59.2 L483,59.62 L485,60 L487,60.35 L489,60.68 L491,60.98 L493,61.26 L495,61.51 L497,61.75 L499,61.96 L500.5,62.11" fill="none" stroke="#767676" stroke-width="0.95"/><rect x="422" y="6.5" width="2.0" height="2.0" fill="#000"/><rect x="464.5" y="53.5" width="2.0" height="2.0" fill="#000"/></g>
<g class="p"><rect x="427.5" y="80.5" width="75" height="59" fill="none" stroke="#9c9c9c" stroke-width="1.0"/><text x="424.75" y="0" text-anchor="end" transform="translate(0 82.42) scale(1 1.0) translate(0 0)">1400</text><path d="M427.5,88.5 h1.5" stroke="#9c9c9c" stroke-width="0.8" opacity="0.6"/><text x="424.75" y="0" text-anchor="end" transform="translate(0 90.84) scale(1 1.0) translate(0 0)">1200</text><path d="M427.5,97.5 h1.5" stroke="#9c9c9c" stroke-width="0.8" opacity="0.6"/><text x="424.75" y="0" text-anchor="end" transform="translate(0 99.27) scale(1 1.0) translate(0 0)">1000</text><path d="M427.5,105.5 h1.5" stroke="#9c9c9c" stroke-width="0.8" opacity="0.6"/><text x="424.75" y="0" text-anchor="end" transform="translate(0 107.7) scale(1 1.0) translate(0 0)">800</text><path d="M427.5,114.5 h1.5" stroke="#9c9c9c" stroke-width="0.8" opacity="0.6"/><text x="424.75" y="0" text-anchor="end" transform="translate(0 116.13) scale(1 1.0) translate(0 0)">600</text><path d="M427.5,122.5 h1.5" stroke="#9c9c9c" stroke-width="0.8" opacity="0.6"/><text x="424.75" y="0" text-anchor="end" transform="translate(0 124.56) scale(1 1.0) translate(0 0)">400</text><path d="M427.5,130.5 h1.5" stroke="#9c9c9c" stroke-width="0.8" opacity="0.6"/><text x="424.75" y="0" text-anchor="end" transform="translate(0 132.99) scale(1 1.0) translate(0 0)">200</text><text x="424.75" y="0" text-anchor="end" transform="translate(0 141.42) scale(1 1.0) translate(0 0)">0</text><text x="429.62" y="0" text-anchor="middle" transform="translate(0 146.62) scale(1 1.0)">0</text><path d="M444.5,139.5 v-1.5" stroke="#9c9c9c" stroke-width="0.8" opacity="0.6"/><text x="444.56" y="0" text-anchor="middle" transform="translate(0 146.62) scale(1 1.0)">20</text><path d="M459.5,139.5 v-1.5" stroke="#9c9c9c" stroke-width="0.8" opacity="0.6"/><text x="459.5" y="0" text-anchor="middle" transform="translate(0 146.62) scale(1 1.0)">40</text><path d="M474.5,139.5 v-1.5" stroke="#9c9c9c" stroke-width="0.8" opacity="0.6"/><text x="474.44" y="0" text-anchor="middle" transform="translate(0 146.62) scale(1 1.0)">60</text><path d="M489.5,139.5 v-1.5" stroke="#9c9c9c" stroke-width="0.8" opacity="0.6"/><text x="489.38" y="0" text-anchor="middle" transform="translate(0 146.62) scale(1 1.0)">80</text><text x="504.32" y="0" text-anchor="middle" transform="translate(0 146.62) scale(1 1.0)">100</text><path d="M428,83 L430,87.17 L432,91.03 L434,94.61 L436,97.92 L438,100.99 L440,103.83 L442,106.46 L444,108.9 L446,111.16 L448,113.25 L450,115.19 L452,116.98 L454,118.64 L456,120.18 L458,121.61 L460,122.93 L462,124.15 L464,125.28 L466,126.33 L468,127.3 L470,128.2 L472,129.04 L474,129.81 L476,130.53 L478,131.19 L480,131.8 L482,132.37 L484,132.9 L486,133.38 L488,133.83 L490,134.25 L492,134.64 L494,135 L496,135.33 L498,135.64 L500,135.92 L502,136.19 L502.5,136.25" fill="none" stroke="#767676" stroke-width="0.95"/><rect x="427" y="82" width="2.0" height="2.0" fill="#000"/><rect x="466.5" y="129" width="2.0" height="2.0" fill="#000"/></g>
<g class="p"><rect x="427.5" y="154.5" width="81" height="67" fill="none" stroke="#9c9c9c" stroke-width="1.0"/><text x="424.75" y="0" text-anchor="end" transform="translate(0 156.42) scale(1 1.0) translate(0 0)">16000</text><path d="M427.5,162.5 h1.5" stroke="#9c9c9c" stroke-width="0.8" opacity="0.6"/><text x="424.75" y="0" text-anchor="end" transform="translate(0 164.79) scale(1 1.0) translate(0 0)">14000</text><path d="M427.5,171.5 h1.5" stroke="#9c9c9c" stroke-width="0.8" opacity="0.6"/><text x="424.75" y="0" text-anchor="end" transform="translate(0 173.17) scale(1 1.0) translate(0 0)">12000</text><path d="M427.5,179.5 h1.5" stroke="#9c9c9c" stroke-width="0.8" opacity="0.6"/><text x="424.75" y="0" text-anchor="end" transform="translate(0 181.54) scale(1 1.0) translate(0 0)">10000</text><path d="M427.5,187.5 h1.5" stroke="#9c9c9c" stroke-width="0.8" opacity="0.6"/><text x="424.75" y="0" text-anchor="end" transform="translate(0 189.92) scale(1 1.0) translate(0 0)">8000</text><path d="M427.5,196.5 h1.5" stroke="#9c9c9c" stroke-width="0.8" opacity="0.6"/><text x="424.75" y="0" text-anchor="end" transform="translate(0 198.29) scale(1 1.0) translate(0 0)">6000</text><path d="M427.5,204.5 h1.5" stroke="#9c9c9c" stroke-width="0.8" opacity="0.6"/><text x="424.75" y="0" text-anchor="end" transform="translate(0 206.67) scale(1 1.0) translate(0 0)">4000</text><path d="M427.5,213.5 h1.5" stroke="#9c9c9c" stroke-width="0.8" opacity="0.6"/><text x="424.75" y="0" text-anchor="end" transform="translate(0 215.04) scale(1 1.0) translate(0 0)">2000</text><text x="424.75" y="0" text-anchor="end" transform="translate(0 223.42) scale(1 1.0) translate(0 0)">0</text><text x="428.87" y="0" text-anchor="middle" transform="translate(0 228.52) scale(1 1.0)">0</text><path d="M445.5,221.5 v-1.5" stroke="#9c9c9c" stroke-width="0.8" opacity="0.6"/><text x="445.18" y="0" text-anchor="middle" transform="translate(0 228.52) scale(1 1.0)">20</text><path d="M461.5,221.5 v-1.5" stroke="#9c9c9c" stroke-width="0.8" opacity="0.6"/><text x="461.49" y="0" text-anchor="middle" transform="translate(0 228.52) scale(1 1.0)">40</text><path d="M477.5,221.5 v-1.5" stroke="#9c9c9c" stroke-width="0.8" opacity="0.6"/><text x="477.8" y="0" text-anchor="middle" transform="translate(0 228.52) scale(1 1.0)">60</text><path d="M493.5,221.5 v-1.5" stroke="#9c9c9c" stroke-width="0.8" opacity="0.6"/><text x="494.11" y="0" text-anchor="middle" transform="translate(0 228.52) scale(1 1.0)">80</text><text x="510.42" y="0" text-anchor="middle" transform="translate(0 228.52) scale(1 1.0)">100</text><path d="M428,156.5 L430,161.41 L432,165.95 L434,170.14 L436,174.02 L438,177.61 L440,180.92 L442,183.98 L444,186.82 L446,189.44 L448,191.86 L450,194.1 L452,196.17 L454,198.08 L456,199.85 L458,201.48 L460,202.99 L462,204.39 L464,205.68 L466,206.88 L468,207.98 L470,209 L472,209.95 L474,210.82 L476,211.63 L478,212.37 L480,213.06 L482,213.7 L484,214.29 L486,214.83 L488,215.34 L490,215.8 L492,216.23 L494,216.63 L496,217 L498,217.34 L500,217.65 L502,217.94 L504,218.21 L506,218.46 L508,218.69 L508.5,218.74" fill="none" stroke="#767676" stroke-width="0.95"/><rect x="427" y="155.5" width="2.0" height="2.0" fill="#000"/><rect x="472.25" y="209.5" width="2.0" height="2.0" fill="#000"/></g>
<g class="p"><rect x="429.5" y="242.5" width="80" height="63" fill="none" stroke="#9c9c9c" stroke-width="1.0"/><text x="427.25" y="0" text-anchor="end" transform="translate(0 244.42) scale(1 1.0) translate(0 0)">7000</text><path d="M429.5,251.5 h1.5" stroke="#9c9c9c" stroke-width="0.8" opacity="0.6"/><text x="427.25" y="0" text-anchor="end" transform="translate(0 253.42) scale(1 1.0) translate(0 0)">6000</text><path d="M429.5,260.5 h1.5" stroke="#9c9c9c" stroke-width="0.8" opacity="0.6"/><text x="427.25" y="0" text-anchor="end" transform="translate(0 262.42) scale(1 1.0) translate(0 0)">5000</text><path d="M429.5,269.5 h1.5" stroke="#9c9c9c" stroke-width="0.8" opacity="0.6"/><text x="427.25" y="0" text-anchor="end" transform="translate(0 271.42) scale(1 1.0) translate(0 0)">4000</text><path d="M429.5,278.5 h1.5" stroke="#9c9c9c" stroke-width="0.8" opacity="0.6"/><text x="427.25" y="0" text-anchor="end" transform="translate(0 280.42) scale(1 1.0) translate(0 0)">3000</text><path d="M429.5,287.5 h1.5" stroke="#9c9c9c" stroke-width="0.8" opacity="0.6"/><text x="427.25" y="0" text-anchor="end" transform="translate(0 289.42) scale(1 1.0) translate(0 0)">2000</text><path d="M429.5,296.5 h1.5" stroke="#9c9c9c" stroke-width="0.8" opacity="0.6"/><text x="427.25" y="0" text-anchor="end" transform="translate(0 298.42) scale(1 1.0) translate(0 0)">1000</text><text x="427.25" y="0" text-anchor="end" transform="translate(0 307.42) scale(1 1.0) translate(0 0)">0</text><text x="431.37" y="0" text-anchor="middle" transform="translate(0 313.12) scale(1 1.0)">0</text><path d="M447.5,305.5 v-1.5" stroke="#9c9c9c" stroke-width="0.8" opacity="0.6"/><text x="447.38" y="0" text-anchor="middle" transform="translate(0 313.12) scale(1 1.0)">20</text><path d="M463.5,305.5 v-1.5" stroke="#9c9c9c" stroke-width="0.8" opacity="0.6"/><text x="463.39" y="0" text-anchor="middle" transform="translate(0 313.12) scale(1 1.0)">40</text><path d="M479.5,305.5 v-1.5" stroke="#9c9c9c" stroke-width="0.8" opacity="0.6"/><text x="479.4" y="0" text-anchor="middle" transform="translate(0 313.12) scale(1 1.0)">60</text><path d="M495.5,305.5 v-1.5" stroke="#9c9c9c" stroke-width="0.8" opacity="0.6"/><text x="495.41" y="0" text-anchor="middle" transform="translate(0 313.12) scale(1 1.0)">80</text><text x="511.42" y="0" text-anchor="middle" transform="translate(0 313.12) scale(1 1.0)">100</text><path d="M430,249.5 L432,253.72 L434,257.62 L436,261.22 L438,264.56 L440,267.64 L442,270.49 L444,273.13 L446,275.57 L448,277.82 L450,279.91 L452,281.84 L454,283.62 L456,285.27 L458,286.79 L460,288.2 L462,289.5 L464,290.71 L466,291.82 L468,292.85 L470,293.8 L472,294.69 L474,295.5 L476,296.25 L478,296.95 L480,297.59 L482,298.19 L484,298.74 L486,299.25 L488,299.72 L490,300.16 L492,300.56 L494,300.93 L496,301.27 L498,301.59 L500,301.89 L502,302.16 L504,302.41 L506,302.64 L508,302.86 L509.5,303.01" fill="none" stroke="#767676" stroke-width="0.95"/><rect x="429" y="248.5" width="2.0" height="2.0" fill="#000"/><rect x="473" y="294.5" width="2.0" height="2.0" fill="#000"/></g>
<g class="p"><rect x="431.5" y="330.5" width="82" height="65" fill="none" stroke="#9c9c9c" stroke-width="1.0"/><text x="429.5" y="0" text-anchor="end" transform="translate(0 332.42) scale(1 1.0) translate(0 0)">8000</text><path d="M431.5,338.5 h1.5" stroke="#9c9c9c" stroke-width="0.8" opacity="0.6"/><text x="429.5" y="0" text-anchor="end" transform="translate(0 340.54) scale(1 1.0) translate(0 0)">7000</text><path d="M431.5,346.5 h1.5" stroke="#9c9c9c" stroke-width="0.8" opacity="0.6"/><text x="429.5" y="0" text-anchor="end" transform="translate(0 348.67) scale(1 1.0) translate(0 0)">6000</text><path d="M431.5,354.5 h1.5" stroke="#9c9c9c" stroke-width="0.8" opacity="0.6"/><text x="429.5" y="0" text-anchor="end" transform="translate(0 356.79) scale(1 1.0) translate(0 0)">5000</text><path d="M431.5,362.5 h1.5" stroke="#9c9c9c" stroke-width="0.8" opacity="0.6"/><text x="429.5" y="0" text-anchor="end" transform="translate(0 364.92) scale(1 1.0) translate(0 0)">4000</text><path d="M431.5,371.5 h1.5" stroke="#9c9c9c" stroke-width="0.8" opacity="0.6"/><text x="429.5" y="0" text-anchor="end" transform="translate(0 373.04) scale(1 1.0) translate(0 0)">3000</text><path d="M431.5,379.5 h1.5" stroke="#9c9c9c" stroke-width="0.8" opacity="0.6"/><text x="429.5" y="0" text-anchor="end" transform="translate(0 381.17) scale(1 1.0) translate(0 0)">2000</text><path d="M431.5,387.5 h1.5" stroke="#9c9c9c" stroke-width="0.8" opacity="0.6"/><text x="429.5" y="0" text-anchor="end" transform="translate(0 389.29) scale(1 1.0) translate(0 0)">1000</text><text x="429.5" y="0" text-anchor="end" transform="translate(0 397.42) scale(1 1.0) translate(0 0)">0</text><text x="434.12" y="0" text-anchor="middle" transform="translate(0 402.92) scale(1 1.0)">0</text><path d="M450.5,395.5 v-1.5" stroke="#9c9c9c" stroke-width="0.8" opacity="0.6"/><text x="450.42" y="0" text-anchor="middle" transform="translate(0 402.92) scale(1 1.0)">20</text><path d="M466.5,395.5 v-1.5" stroke="#9c9c9c" stroke-width="0.8" opacity="0.6"/><text x="466.72" y="0" text-anchor="middle" transform="translate(0 402.92) scale(1 1.0)">40</text><path d="M482.5,395.5 v-1.5" stroke="#9c9c9c" stroke-width="0.8" opacity="0.6"/><text x="483.02" y="0" text-anchor="middle" transform="translate(0 402.92) scale(1 1.0)">60</text><path d="M499.5,395.5 v-1.5" stroke="#9c9c9c" stroke-width="0.8" opacity="0.6"/><text x="499.32" y="0" text-anchor="middle" transform="translate(0 402.92) scale(1 1.0)">80</text><text x="515.62" y="0" text-anchor="middle" transform="translate(0 402.92) scale(1 1.0)">100</text><path d="M432.5,332 L434.5,337.74 L436.5,342.96 L438.5,347.7 L440.5,352.02 L442.5,355.95 L444.5,359.52 L446.5,362.78 L448.5,365.73 L450.5,368.42 L452.5,370.87 L454.5,373.09 L456.5,375.12 L458.5,376.96 L460.5,378.64 L462.5,380.16 L464.5,381.55 L466.5,382.81 L468.5,383.95 L470.5,385 L472.5,385.95 L474.5,386.81 L476.5,387.59 L478.5,388.31 L480.5,388.96 L482.5,389.55 L484.5,390.09 L486.5,390.58 L488.5,391.02 L490.5,391.43 L492.5,391.79 L494.5,392.13 L496.5,392.43 L498.5,392.71 L500.5,392.96 L502.5,393.19 L504.5,393.4 L506.5,393.59 L508.5,393.76 L510.5,393.92 L512.5,394.06 L513.5,394.13" fill="none" stroke="#767676" stroke-width="0.95"/><rect x="431.5" y="331" width="2.0" height="2.0" fill="#000"/><rect x="475.25" y="386.5" width="2.0" height="2.0" fill="#000"/></g>
<text x="66.2" y="81.6" font-size="6.4" textLength="32" lengthAdjust="spacingAndGlyphs" fill="#111" stroke="#111" stroke-width="0.2">time (days)</text>
<text x="200.8" y="80.8" font-size="6.4" textLength="31.2" lengthAdjust="spacingAndGlyphs" fill="#111" stroke="#111" stroke-width="0.2">time (days)</text>
<text x="41.1" y="415.3" font-size="8.8" textLength="68.1" lengthAdjust="spacingAndGlyphs" fill="#111" stroke="#111" stroke-width="0.2">days post treatment</text>
<text x="177.4" y="416" font-size="8.8" textLength="67.1" lengthAdjust="spacingAndGlyphs" fill="#111" stroke="#111" stroke-width="0.2">days post treatment</text>
<text x="304.2" y="416.3" font-size="8.8" textLength="70.4" lengthAdjust="spacingAndGlyphs" fill="#111" stroke="#111" stroke-width="0.2">days post treatment</text>
<text x="436.9" y="415.7" font-size="8.8" textLength="70.6" lengthAdjust="spacingAndGlyphs" fill="#111" stroke="#111" stroke-width="0.2">days post treatment</text>
<text transform="translate(6.9 263.7) rotate(-90)" x="0" y="0" font-size="8.0" textLength="130.9" lengthAdjust="spacingAndGlyphs" fill="#111" stroke="#111" stroke-width="0.2">total lymphocyte count&#160; in blood (x10<tspan font-size="5" dy="-3">9</tspan><tspan dy="3">)</tspan></text>
<text transform="translate(274.8 266) rotate(-90)" x="0" y="0" font-size="7.9" textLength="137.1" lengthAdjust="spacingAndGlyphs" fill="#111" stroke="#111" stroke-width="0.2">total lymphocyte count&#160; in blood (x10<tspan font-size="5" dy="-3">9</tspan><tspan dy="3">)</tspan></text>
<text transform="translate(140.3 272.1) rotate(-90)" x="0" y="0" font-size="8.4" textLength="164.3" lengthAdjust="spacingAndGlyphs" fill="#111" stroke="#111" stroke-width="0.2">estimated number of&#160; tumor cells in tissue (x10<tspan font-size="5" dy="-3">9</tspan><tspan dy="3">)</tspan></text>
<text transform="translate(404.5 274.9) rotate(-90)" x="0" y="0" font-size="8.6" textLength="170.8" lengthAdjust="spacingAndGlyphs" fill="#111" stroke="#111" stroke-width="0.2">estimated number of&#160; tumor cells in tissue (x10<tspan font-size="5" dy="-3">9</tspan><tspan dy="3">)</tspan></text>
</svg>
</body></html>
